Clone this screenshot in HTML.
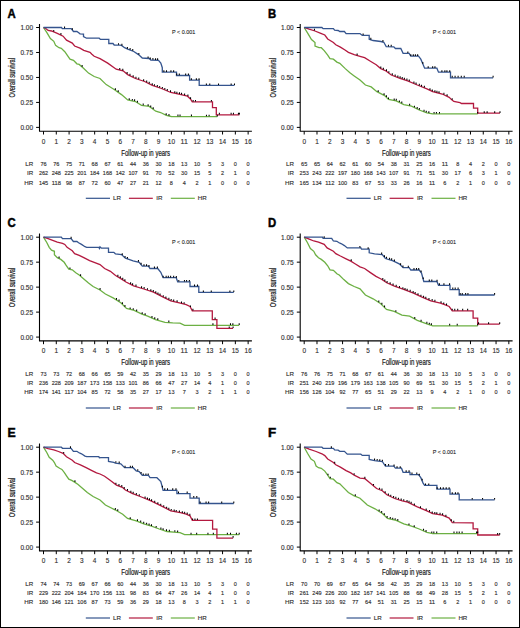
<!DOCTYPE html><html><head><meta charset="utf-8"><style>html,body{margin:0;padding:0;background:#fff}svg{display:block}</style></head><body>
<svg width="520" height="628" viewBox="0 0 520 628">
<rect x="0" y="0" width="520" height="628" fill="#fff"/>
<g transform="translate(0,0)">
<text x="7.4" y="17.7" font-family="Liberation Sans" font-weight="bold" font-size="12" fill="#000" stroke="#000" stroke-width="0.45" textLength="8.2" lengthAdjust="spacingAndGlyphs">A</text>
<path d="M39.5 23.9V131.6M39.0 131.2H251.9" stroke="#000" stroke-width="1.1" fill="none"/>
<text x="33.0" y="29.95" text-anchor="end" font-family="Liberation Sans" font-size="7.2" fill="#2e2e2e" stroke="#2e2e2e" stroke-width="0.14" textLength="12.6" lengthAdjust="spacingAndGlyphs">1.00</text>
<text x="33.0" y="54.92" text-anchor="end" font-family="Liberation Sans" font-size="7.2" fill="#2e2e2e" stroke="#2e2e2e" stroke-width="0.14" textLength="12.6" lengthAdjust="spacingAndGlyphs">0.75</text>
<text x="33.0" y="79.89" text-anchor="end" font-family="Liberation Sans" font-size="7.2" fill="#2e2e2e" stroke="#2e2e2e" stroke-width="0.14" textLength="12.6" lengthAdjust="spacingAndGlyphs">0.50</text>
<text x="33.0" y="104.86" text-anchor="end" font-family="Liberation Sans" font-size="7.2" fill="#2e2e2e" stroke="#2e2e2e" stroke-width="0.14" textLength="12.6" lengthAdjust="spacingAndGlyphs">0.25</text>
<text x="33.0" y="129.83" text-anchor="end" font-family="Liberation Sans" font-size="7.2" fill="#2e2e2e" stroke="#2e2e2e" stroke-width="0.14" textLength="12.6" lengthAdjust="spacingAndGlyphs">0.00</text>
<text x="43.5" y="143.6" text-anchor="middle" font-family="Liberation Sans" font-size="8.1" fill="#2e2e2e" stroke="#2e2e2e" stroke-width="0.14" textLength="3.6" lengthAdjust="spacingAndGlyphs">0</text>
<text x="56.29" y="143.6" text-anchor="middle" font-family="Liberation Sans" font-size="8.1" fill="#2e2e2e" stroke="#2e2e2e" stroke-width="0.14" textLength="3.6" lengthAdjust="spacingAndGlyphs">1</text>
<text x="69.08" y="143.6" text-anchor="middle" font-family="Liberation Sans" font-size="8.1" fill="#2e2e2e" stroke="#2e2e2e" stroke-width="0.14" textLength="3.6" lengthAdjust="spacingAndGlyphs">2</text>
<text x="81.87" y="143.6" text-anchor="middle" font-family="Liberation Sans" font-size="8.1" fill="#2e2e2e" stroke="#2e2e2e" stroke-width="0.14" textLength="3.6" lengthAdjust="spacingAndGlyphs">3</text>
<text x="94.66" y="143.6" text-anchor="middle" font-family="Liberation Sans" font-size="8.1" fill="#2e2e2e" stroke="#2e2e2e" stroke-width="0.14" textLength="3.6" lengthAdjust="spacingAndGlyphs">4</text>
<text x="107.45" y="143.6" text-anchor="middle" font-family="Liberation Sans" font-size="8.1" fill="#2e2e2e" stroke="#2e2e2e" stroke-width="0.14" textLength="3.6" lengthAdjust="spacingAndGlyphs">5</text>
<text x="120.24" y="143.6" text-anchor="middle" font-family="Liberation Sans" font-size="8.1" fill="#2e2e2e" stroke="#2e2e2e" stroke-width="0.14" textLength="3.6" lengthAdjust="spacingAndGlyphs">6</text>
<text x="133.03" y="143.6" text-anchor="middle" font-family="Liberation Sans" font-size="8.1" fill="#2e2e2e" stroke="#2e2e2e" stroke-width="0.14" textLength="3.6" lengthAdjust="spacingAndGlyphs">7</text>
<text x="145.82" y="143.6" text-anchor="middle" font-family="Liberation Sans" font-size="8.1" fill="#2e2e2e" stroke="#2e2e2e" stroke-width="0.14" textLength="3.6" lengthAdjust="spacingAndGlyphs">8</text>
<text x="158.61" y="143.6" text-anchor="middle" font-family="Liberation Sans" font-size="8.1" fill="#2e2e2e" stroke="#2e2e2e" stroke-width="0.14" textLength="3.6" lengthAdjust="spacingAndGlyphs">9</text>
<text x="171.4" y="143.6" text-anchor="middle" font-family="Liberation Sans" font-size="8.1" fill="#2e2e2e" stroke="#2e2e2e" stroke-width="0.14" textLength="7.2" lengthAdjust="spacingAndGlyphs">10</text>
<text x="184.19" y="143.6" text-anchor="middle" font-family="Liberation Sans" font-size="8.1" fill="#2e2e2e" stroke="#2e2e2e" stroke-width="0.14" textLength="7.2" lengthAdjust="spacingAndGlyphs">11</text>
<text x="196.98" y="143.6" text-anchor="middle" font-family="Liberation Sans" font-size="8.1" fill="#2e2e2e" stroke="#2e2e2e" stroke-width="0.14" textLength="7.2" lengthAdjust="spacingAndGlyphs">12</text>
<text x="209.77" y="143.6" text-anchor="middle" font-family="Liberation Sans" font-size="8.1" fill="#2e2e2e" stroke="#2e2e2e" stroke-width="0.14" textLength="7.2" lengthAdjust="spacingAndGlyphs">13</text>
<text x="222.56" y="143.6" text-anchor="middle" font-family="Liberation Sans" font-size="8.1" fill="#2e2e2e" stroke="#2e2e2e" stroke-width="0.14" textLength="7.2" lengthAdjust="spacingAndGlyphs">14</text>
<text x="235.35" y="143.6" text-anchor="middle" font-family="Liberation Sans" font-size="8.1" fill="#2e2e2e" stroke="#2e2e2e" stroke-width="0.14" textLength="7.2" lengthAdjust="spacingAndGlyphs">15</text>
<text x="248.14" y="143.6" text-anchor="middle" font-family="Liberation Sans" font-size="8.1" fill="#2e2e2e" stroke="#2e2e2e" stroke-width="0.14" textLength="7.2" lengthAdjust="spacingAndGlyphs">16</text>
<path d="M36.1 27.5H39.5 M36.1 52.47H39.5 M36.1 77.44H39.5 M36.1 102.41H39.5 M36.1 127.38H39.5 M43.5 131.2V134.5 M56.29 131.2V134.5 M69.08 131.2V134.5 M81.87 131.2V134.5 M94.66 131.2V134.5 M107.45 131.2V134.5 M120.24 131.2V134.5 M133.03 131.2V134.5 M145.82 131.2V134.5 M158.61 131.2V134.5 M171.4 131.2V134.5 M184.19 131.2V134.5 M196.98 131.2V134.5 M209.77 131.2V134.5 M222.56 131.2V134.5 M235.35 131.2V134.5 M248.14 131.2V134.5" stroke="#000" stroke-width="1" fill="none"/>
<text x="121.3" y="155.6" font-family="Liberation Sans" font-size="9.1" fill="#1a1a1a" stroke="#1a1a1a" stroke-width="0.22" textLength="48.8" lengthAdjust="spacingAndGlyphs">Follow-up in years</text>
<text transform="translate(15.0,97.6) rotate(-90)" x="0" y="0" font-family="Liberation Sans" font-size="9.0" fill="#1a1a1a" stroke="#1a1a1a" stroke-width="0.22" textLength="39.6" lengthAdjust="spacingAndGlyphs">Overall survival</text>
<text x="172.0" y="33.9" font-family="Liberation Sans" font-size="5.9" fill="#222" stroke="#222" stroke-width="0.1" textLength="23.3" lengthAdjust="spacingAndGlyphs">P &lt; 0.001</text>
<text x="33.2" y="166.34" text-anchor="end" font-family="Liberation Sans" font-size="6.2" fill="#2e2e2e" stroke="#2e2e2e" stroke-width="0.14">LR</text>
<text x="43.5" y="166.34" text-anchor="middle" font-family="Liberation Sans" font-size="6.2" fill="#2e2e2e" stroke="#2e2e2e" stroke-width="0.14" textLength="6.14" lengthAdjust="spacingAndGlyphs">76</text>
<text x="56.29" y="166.34" text-anchor="middle" font-family="Liberation Sans" font-size="6.2" fill="#2e2e2e" stroke="#2e2e2e" stroke-width="0.14" textLength="6.14" lengthAdjust="spacingAndGlyphs">76</text>
<text x="69.08" y="166.34" text-anchor="middle" font-family="Liberation Sans" font-size="6.2" fill="#2e2e2e" stroke="#2e2e2e" stroke-width="0.14" textLength="6.14" lengthAdjust="spacingAndGlyphs">75</text>
<text x="81.87" y="166.34" text-anchor="middle" font-family="Liberation Sans" font-size="6.2" fill="#2e2e2e" stroke="#2e2e2e" stroke-width="0.14" textLength="6.14" lengthAdjust="spacingAndGlyphs">71</text>
<text x="94.66" y="166.34" text-anchor="middle" font-family="Liberation Sans" font-size="6.2" fill="#2e2e2e" stroke="#2e2e2e" stroke-width="0.14" textLength="6.14" lengthAdjust="spacingAndGlyphs">68</text>
<text x="107.45" y="166.34" text-anchor="middle" font-family="Liberation Sans" font-size="6.2" fill="#2e2e2e" stroke="#2e2e2e" stroke-width="0.14" textLength="6.14" lengthAdjust="spacingAndGlyphs">67</text>
<text x="120.24" y="166.34" text-anchor="middle" font-family="Liberation Sans" font-size="6.2" fill="#2e2e2e" stroke="#2e2e2e" stroke-width="0.14" textLength="6.14" lengthAdjust="spacingAndGlyphs">61</text>
<text x="133.03" y="166.34" text-anchor="middle" font-family="Liberation Sans" font-size="6.2" fill="#2e2e2e" stroke="#2e2e2e" stroke-width="0.14" textLength="6.14" lengthAdjust="spacingAndGlyphs">44</text>
<text x="145.82" y="166.34" text-anchor="middle" font-family="Liberation Sans" font-size="6.2" fill="#2e2e2e" stroke="#2e2e2e" stroke-width="0.14" textLength="6.14" lengthAdjust="spacingAndGlyphs">36</text>
<text x="158.61" y="166.34" text-anchor="middle" font-family="Liberation Sans" font-size="6.2" fill="#2e2e2e" stroke="#2e2e2e" stroke-width="0.14" textLength="6.14" lengthAdjust="spacingAndGlyphs">30</text>
<text x="171.4" y="166.34" text-anchor="middle" font-family="Liberation Sans" font-size="6.2" fill="#2e2e2e" stroke="#2e2e2e" stroke-width="0.14" textLength="6.14" lengthAdjust="spacingAndGlyphs">18</text>
<text x="184.19" y="166.34" text-anchor="middle" font-family="Liberation Sans" font-size="6.2" fill="#2e2e2e" stroke="#2e2e2e" stroke-width="0.14" textLength="6.14" lengthAdjust="spacingAndGlyphs">13</text>
<text x="196.98" y="166.34" text-anchor="middle" font-family="Liberation Sans" font-size="6.2" fill="#2e2e2e" stroke="#2e2e2e" stroke-width="0.14" textLength="6.14" lengthAdjust="spacingAndGlyphs">10</text>
<text x="209.77" y="166.34" text-anchor="middle" font-family="Liberation Sans" font-size="6.2" fill="#2e2e2e" stroke="#2e2e2e" stroke-width="0.14" textLength="3.07" lengthAdjust="spacingAndGlyphs">5</text>
<text x="222.56" y="166.34" text-anchor="middle" font-family="Liberation Sans" font-size="6.2" fill="#2e2e2e" stroke="#2e2e2e" stroke-width="0.14" textLength="3.07" lengthAdjust="spacingAndGlyphs">3</text>
<text x="235.35" y="166.34" text-anchor="middle" font-family="Liberation Sans" font-size="6.2" fill="#2e2e2e" stroke="#2e2e2e" stroke-width="0.14" textLength="3.07" lengthAdjust="spacingAndGlyphs">0</text>
<text x="248.14" y="166.34" text-anchor="middle" font-family="Liberation Sans" font-size="6.2" fill="#2e2e2e" stroke="#2e2e2e" stroke-width="0.14" textLength="3.07" lengthAdjust="spacingAndGlyphs">0</text>
<text x="33.2" y="175.44" text-anchor="end" font-family="Liberation Sans" font-size="6.2" fill="#2e2e2e" stroke="#2e2e2e" stroke-width="0.14">IR</text>
<text x="43.5" y="175.44" text-anchor="middle" font-family="Liberation Sans" font-size="6.2" fill="#2e2e2e" stroke="#2e2e2e" stroke-width="0.14" textLength="9.21" lengthAdjust="spacingAndGlyphs">262</text>
<text x="56.29" y="175.44" text-anchor="middle" font-family="Liberation Sans" font-size="6.2" fill="#2e2e2e" stroke="#2e2e2e" stroke-width="0.14" textLength="9.21" lengthAdjust="spacingAndGlyphs">248</text>
<text x="69.08" y="175.44" text-anchor="middle" font-family="Liberation Sans" font-size="6.2" fill="#2e2e2e" stroke="#2e2e2e" stroke-width="0.14" textLength="9.21" lengthAdjust="spacingAndGlyphs">225</text>
<text x="81.87" y="175.44" text-anchor="middle" font-family="Liberation Sans" font-size="6.2" fill="#2e2e2e" stroke="#2e2e2e" stroke-width="0.14" textLength="9.21" lengthAdjust="spacingAndGlyphs">201</text>
<text x="94.66" y="175.44" text-anchor="middle" font-family="Liberation Sans" font-size="6.2" fill="#2e2e2e" stroke="#2e2e2e" stroke-width="0.14" textLength="9.21" lengthAdjust="spacingAndGlyphs">184</text>
<text x="107.45" y="175.44" text-anchor="middle" font-family="Liberation Sans" font-size="6.2" fill="#2e2e2e" stroke="#2e2e2e" stroke-width="0.14" textLength="9.21" lengthAdjust="spacingAndGlyphs">168</text>
<text x="120.24" y="175.44" text-anchor="middle" font-family="Liberation Sans" font-size="6.2" fill="#2e2e2e" stroke="#2e2e2e" stroke-width="0.14" textLength="9.21" lengthAdjust="spacingAndGlyphs">142</text>
<text x="133.03" y="175.44" text-anchor="middle" font-family="Liberation Sans" font-size="6.2" fill="#2e2e2e" stroke="#2e2e2e" stroke-width="0.14" textLength="9.21" lengthAdjust="spacingAndGlyphs">107</text>
<text x="145.82" y="175.44" text-anchor="middle" font-family="Liberation Sans" font-size="6.2" fill="#2e2e2e" stroke="#2e2e2e" stroke-width="0.14" textLength="6.14" lengthAdjust="spacingAndGlyphs">91</text>
<text x="158.61" y="175.44" text-anchor="middle" font-family="Liberation Sans" font-size="6.2" fill="#2e2e2e" stroke="#2e2e2e" stroke-width="0.14" textLength="6.14" lengthAdjust="spacingAndGlyphs">70</text>
<text x="171.4" y="175.44" text-anchor="middle" font-family="Liberation Sans" font-size="6.2" fill="#2e2e2e" stroke="#2e2e2e" stroke-width="0.14" textLength="6.14" lengthAdjust="spacingAndGlyphs">52</text>
<text x="184.19" y="175.44" text-anchor="middle" font-family="Liberation Sans" font-size="6.2" fill="#2e2e2e" stroke="#2e2e2e" stroke-width="0.14" textLength="6.14" lengthAdjust="spacingAndGlyphs">30</text>
<text x="196.98" y="175.44" text-anchor="middle" font-family="Liberation Sans" font-size="6.2" fill="#2e2e2e" stroke="#2e2e2e" stroke-width="0.14" textLength="6.14" lengthAdjust="spacingAndGlyphs">15</text>
<text x="209.77" y="175.44" text-anchor="middle" font-family="Liberation Sans" font-size="6.2" fill="#2e2e2e" stroke="#2e2e2e" stroke-width="0.14" textLength="3.07" lengthAdjust="spacingAndGlyphs">5</text>
<text x="222.56" y="175.44" text-anchor="middle" font-family="Liberation Sans" font-size="6.2" fill="#2e2e2e" stroke="#2e2e2e" stroke-width="0.14" textLength="3.07" lengthAdjust="spacingAndGlyphs">2</text>
<text x="235.35" y="175.44" text-anchor="middle" font-family="Liberation Sans" font-size="6.2" fill="#2e2e2e" stroke="#2e2e2e" stroke-width="0.14" textLength="3.07" lengthAdjust="spacingAndGlyphs">1</text>
<text x="248.14" y="175.44" text-anchor="middle" font-family="Liberation Sans" font-size="6.2" fill="#2e2e2e" stroke="#2e2e2e" stroke-width="0.14" textLength="3.07" lengthAdjust="spacingAndGlyphs">0</text>
<text x="33.2" y="184.54" text-anchor="end" font-family="Liberation Sans" font-size="6.2" fill="#2e2e2e" stroke="#2e2e2e" stroke-width="0.14">HR</text>
<text x="43.5" y="184.54" text-anchor="middle" font-family="Liberation Sans" font-size="6.2" fill="#2e2e2e" stroke="#2e2e2e" stroke-width="0.14" textLength="9.21" lengthAdjust="spacingAndGlyphs">145</text>
<text x="56.29" y="184.54" text-anchor="middle" font-family="Liberation Sans" font-size="6.2" fill="#2e2e2e" stroke="#2e2e2e" stroke-width="0.14" textLength="9.21" lengthAdjust="spacingAndGlyphs">118</text>
<text x="69.08" y="184.54" text-anchor="middle" font-family="Liberation Sans" font-size="6.2" fill="#2e2e2e" stroke="#2e2e2e" stroke-width="0.14" textLength="6.14" lengthAdjust="spacingAndGlyphs">98</text>
<text x="81.87" y="184.54" text-anchor="middle" font-family="Liberation Sans" font-size="6.2" fill="#2e2e2e" stroke="#2e2e2e" stroke-width="0.14" textLength="6.14" lengthAdjust="spacingAndGlyphs">87</text>
<text x="94.66" y="184.54" text-anchor="middle" font-family="Liberation Sans" font-size="6.2" fill="#2e2e2e" stroke="#2e2e2e" stroke-width="0.14" textLength="6.14" lengthAdjust="spacingAndGlyphs">72</text>
<text x="107.45" y="184.54" text-anchor="middle" font-family="Liberation Sans" font-size="6.2" fill="#2e2e2e" stroke="#2e2e2e" stroke-width="0.14" textLength="6.14" lengthAdjust="spacingAndGlyphs">60</text>
<text x="120.24" y="184.54" text-anchor="middle" font-family="Liberation Sans" font-size="6.2" fill="#2e2e2e" stroke="#2e2e2e" stroke-width="0.14" textLength="6.14" lengthAdjust="spacingAndGlyphs">47</text>
<text x="133.03" y="184.54" text-anchor="middle" font-family="Liberation Sans" font-size="6.2" fill="#2e2e2e" stroke="#2e2e2e" stroke-width="0.14" textLength="6.14" lengthAdjust="spacingAndGlyphs">27</text>
<text x="145.82" y="184.54" text-anchor="middle" font-family="Liberation Sans" font-size="6.2" fill="#2e2e2e" stroke="#2e2e2e" stroke-width="0.14" textLength="6.14" lengthAdjust="spacingAndGlyphs">21</text>
<text x="158.61" y="184.54" text-anchor="middle" font-family="Liberation Sans" font-size="6.2" fill="#2e2e2e" stroke="#2e2e2e" stroke-width="0.14" textLength="6.14" lengthAdjust="spacingAndGlyphs">12</text>
<text x="171.4" y="184.54" text-anchor="middle" font-family="Liberation Sans" font-size="6.2" fill="#2e2e2e" stroke="#2e2e2e" stroke-width="0.14" textLength="3.07" lengthAdjust="spacingAndGlyphs">8</text>
<text x="184.19" y="184.54" text-anchor="middle" font-family="Liberation Sans" font-size="6.2" fill="#2e2e2e" stroke="#2e2e2e" stroke-width="0.14" textLength="3.07" lengthAdjust="spacingAndGlyphs">4</text>
<text x="196.98" y="184.54" text-anchor="middle" font-family="Liberation Sans" font-size="6.2" fill="#2e2e2e" stroke="#2e2e2e" stroke-width="0.14" textLength="3.07" lengthAdjust="spacingAndGlyphs">2</text>
<text x="209.77" y="184.54" text-anchor="middle" font-family="Liberation Sans" font-size="6.2" fill="#2e2e2e" stroke="#2e2e2e" stroke-width="0.14" textLength="3.07" lengthAdjust="spacingAndGlyphs">1</text>
<text x="222.56" y="184.54" text-anchor="middle" font-family="Liberation Sans" font-size="6.2" fill="#2e2e2e" stroke="#2e2e2e" stroke-width="0.14" textLength="3.07" lengthAdjust="spacingAndGlyphs">0</text>
<text x="235.35" y="184.54" text-anchor="middle" font-family="Liberation Sans" font-size="6.2" fill="#2e2e2e" stroke="#2e2e2e" stroke-width="0.14" textLength="3.07" lengthAdjust="spacingAndGlyphs">0</text>
<text x="248.14" y="184.54" text-anchor="middle" font-family="Liberation Sans" font-size="6.2" fill="#2e2e2e" stroke="#2e2e2e" stroke-width="0.14" textLength="3.07" lengthAdjust="spacingAndGlyphs">0</text>
<path d="M85.8 198.3H110" stroke="#34548e" stroke-width="1.2"/>
<path d="M128.9 198.3H152.8" stroke="#b3193f" stroke-width="1.2"/>
<path d="M170.8 198.3H194.8" stroke="#6cb043" stroke-width="1.2"/>
<text x="113" y="200.3" font-family="Liberation Sans" font-size="6.2" fill="#2e2e2e" stroke="#2e2e2e" stroke-width="0.14">LR</text>
<text x="156.2" y="200.3" font-family="Liberation Sans" font-size="6.2" fill="#2e2e2e" stroke="#2e2e2e" stroke-width="0.14">IR</text>
<text x="197.7" y="200.3" font-family="Liberation Sans" font-size="6.2" fill="#2e2e2e" stroke="#2e2e2e" stroke-width="0.14">HR</text>
</g>
<path d="M43.5 27.5 46.9 32.7 50.4 38.5 53.8 41.3 55.6 45.4 59 47.7 61.3 48.3 64.8 51.7 67.7 55.8 70 59.2 73.5 60.4 76.9 63.8 79.2 64.4 83.8 68.5 88.5 73.1 94.2 76.5 100 78.5 106.2 84.6 113.8 89.2 121.5 94.6 127.7 100 135.4 101.5 141.5 105.4 149.2 106.4 155.8 111.2 160.6 112.5 166.3 115.4 171.2 116.5 217.3 116.7" stroke="#6cb043" stroke-width="1.3" fill="none" stroke-linejoin="miter" stroke-miterlimit="3"/>
<path d="M43.5 27.5 45.2 28.1 48.1 30.4 51.5 31 57.3 33.3 63.1 36.2 66.5 40.2 72.3 43.1 74.6 46 80 48.1 83.8 50.4 90 52.3 91.9 54.2 94.2 56.3 100 58.6 107.7 63.1 116.2 69.2 123.1 70.8 127.7 74.6 135.4 78.5 144.6 81.5 152.3 85.4 161.5 88.5 170.8 92.5 178.8 94.2 187.5 96.2 190.4 99 192.3 101.9 212.5 101.9 212.5 107.7 216.3 107.7 216.3 114.8 239.4 114.8" stroke="#b3193f" stroke-width="1.3" fill="none" stroke-linejoin="miter" stroke-miterlimit="3"/>
<path d="M43.5 27.5 61.5 27.5 62.3 28.6 71.2 28.6 73.5 31.5 76.9 31.5 78.7 32.7 80 33.8 83.5 34.2 83.5 36.5 86.5 38.2 99.2 38.2 100.4 39.4 108.8 39.4 108.8 43.5 113 43.5 114.2 45 120 45.2 121.5 45.4 124.6 47.7 127.7 49.2 133.8 51.5 138.5 54.6 142.3 58 149.2 58.5 150.8 60 158.5 60.3 160.8 63.1 162.3 67.7 162.3 72.2 176.5 72.2 176.5 75.5 189.6 75.5 189.6 80.2 199.2 80.2 199.2 85.4 234.5 85.4" stroke="#34548e" stroke-width="1.3" fill="none" stroke-linejoin="miter" stroke-miterlimit="3"/>
<path d="M64.56 28.3v-1.7 M72.43 29.85v-1.7 M118.51 44.85v-1.7 M121.91 45.41v-1.7 M127.39 48.75v-1.7 M130.1 49.8v-1.7 M132.74 50.8v-1.7 M138.85 54.61v-1.7 M148.08 58.12v-1.7 M150.27 59.21v-1.7 M152.91 59.78v-1.7 M155.56 59.89v-1.7 M157.6 59.96v-1.7 M163.87 71.9v-1.7 M166.49 71.9v-1.7 M170.95 71.9v-1.7 M173.64 71.9v-1.7 M176.71 75.2v-1.7 M179.31 75.2v-1.7 M185.67 75.2v-1.7 M188.4 75.2v-1.7 M191.34 79.9v-1.7 M196.35 79.9v-1.7 M199.04 79.9v-1.7 M206.37 85.1v-1.7 M209.76 85.1v-1.7 M218.51 85.1v-1.7 M231.15 85.1v-1.7 M234.5 85.1v-1.7 M53.73 31.59v-1.7 M60.93 34.82v-1.7 M119.75 69.72v-1.7 M122.79 70.43v-1.7 M127.12 73.82v-1.7 M129.96 75.44v-1.7 M133.14 77.05v-1.7 M135.94 78.38v-1.7 M138.74 79.29v-1.7 M143.64 80.89v-1.7 M146.68 82.25v-1.7 M149.24 83.55v-1.7 M152.24 85.07v-1.7 M154.46 85.83v-1.7 M157.32 86.79v-1.7 M159.66 87.58v-1.7 M162.38 88.58v-1.7 M164.81 89.62v-1.7 M167.29 90.69v-1.7 M170.51 92.07v-1.7 M174.79 93.05v-1.7 M176.88 93.49v-1.7 M179.46 94.05v-1.7 M181.55 94.53v-1.7 M184.6 95.23v-1.7 M187.92 96.31v-1.7 M190.55 98.93v-1.7 M193.13 101.6v-1.7 M195.5 101.6v-1.7 M211.4 101.6v-1.7 M219.37 114.5v-1.7 M231.12 114.5v-1.7 M233.43 114.5v-1.7 M238.42 114.5v-1.7 M239.4 114.5v-1.7 M82.13 66.71v-1.7 M115.37 90v-1.7 M118.2 91.98v-1.7 M129.21 99.99v-1.7 M132.34 100.6v-1.7 M134.6 101.04v-1.7 M137.43 102.5v-1.7 M143.2 105.32v-1.7 M148.12 105.96v-1.7 M150.72 107.21v-1.7 M153.2 109.01v-1.7 M166.18 115.04v-1.7 M168.97 115.7v-1.7 M177.95 116.23v-1.7 M180.03 116.24v-1.7 M191.43 116.29v-1.7 M206.45 116.35v-1.7 M209.1 116.36v-1.7 M217.3 116.4v-1.7" stroke="#000" stroke-width="1.05" fill="none"/>
<g transform="translate(260.7,0)">
<text x="7.4" y="17.7" font-family="Liberation Sans" font-weight="bold" font-size="12" fill="#000" stroke="#000" stroke-width="0.45" textLength="8.2" lengthAdjust="spacingAndGlyphs">B</text>
<path d="M39.5 23.9V131.6M39.0 131.2H251.9" stroke="#000" stroke-width="1.1" fill="none"/>
<text x="33.0" y="29.95" text-anchor="end" font-family="Liberation Sans" font-size="7.2" fill="#2e2e2e" stroke="#2e2e2e" stroke-width="0.14" textLength="12.6" lengthAdjust="spacingAndGlyphs">1.00</text>
<text x="33.0" y="54.92" text-anchor="end" font-family="Liberation Sans" font-size="7.2" fill="#2e2e2e" stroke="#2e2e2e" stroke-width="0.14" textLength="12.6" lengthAdjust="spacingAndGlyphs">0.75</text>
<text x="33.0" y="79.89" text-anchor="end" font-family="Liberation Sans" font-size="7.2" fill="#2e2e2e" stroke="#2e2e2e" stroke-width="0.14" textLength="12.6" lengthAdjust="spacingAndGlyphs">0.50</text>
<text x="33.0" y="104.86" text-anchor="end" font-family="Liberation Sans" font-size="7.2" fill="#2e2e2e" stroke="#2e2e2e" stroke-width="0.14" textLength="12.6" lengthAdjust="spacingAndGlyphs">0.25</text>
<text x="33.0" y="129.83" text-anchor="end" font-family="Liberation Sans" font-size="7.2" fill="#2e2e2e" stroke="#2e2e2e" stroke-width="0.14" textLength="12.6" lengthAdjust="spacingAndGlyphs">0.00</text>
<text x="43.5" y="143.6" text-anchor="middle" font-family="Liberation Sans" font-size="8.1" fill="#2e2e2e" stroke="#2e2e2e" stroke-width="0.14" textLength="3.6" lengthAdjust="spacingAndGlyphs">0</text>
<text x="56.29" y="143.6" text-anchor="middle" font-family="Liberation Sans" font-size="8.1" fill="#2e2e2e" stroke="#2e2e2e" stroke-width="0.14" textLength="3.6" lengthAdjust="spacingAndGlyphs">1</text>
<text x="69.08" y="143.6" text-anchor="middle" font-family="Liberation Sans" font-size="8.1" fill="#2e2e2e" stroke="#2e2e2e" stroke-width="0.14" textLength="3.6" lengthAdjust="spacingAndGlyphs">2</text>
<text x="81.87" y="143.6" text-anchor="middle" font-family="Liberation Sans" font-size="8.1" fill="#2e2e2e" stroke="#2e2e2e" stroke-width="0.14" textLength="3.6" lengthAdjust="spacingAndGlyphs">3</text>
<text x="94.66" y="143.6" text-anchor="middle" font-family="Liberation Sans" font-size="8.1" fill="#2e2e2e" stroke="#2e2e2e" stroke-width="0.14" textLength="3.6" lengthAdjust="spacingAndGlyphs">4</text>
<text x="107.45" y="143.6" text-anchor="middle" font-family="Liberation Sans" font-size="8.1" fill="#2e2e2e" stroke="#2e2e2e" stroke-width="0.14" textLength="3.6" lengthAdjust="spacingAndGlyphs">5</text>
<text x="120.24" y="143.6" text-anchor="middle" font-family="Liberation Sans" font-size="8.1" fill="#2e2e2e" stroke="#2e2e2e" stroke-width="0.14" textLength="3.6" lengthAdjust="spacingAndGlyphs">6</text>
<text x="133.03" y="143.6" text-anchor="middle" font-family="Liberation Sans" font-size="8.1" fill="#2e2e2e" stroke="#2e2e2e" stroke-width="0.14" textLength="3.6" lengthAdjust="spacingAndGlyphs">7</text>
<text x="145.82" y="143.6" text-anchor="middle" font-family="Liberation Sans" font-size="8.1" fill="#2e2e2e" stroke="#2e2e2e" stroke-width="0.14" textLength="3.6" lengthAdjust="spacingAndGlyphs">8</text>
<text x="158.61" y="143.6" text-anchor="middle" font-family="Liberation Sans" font-size="8.1" fill="#2e2e2e" stroke="#2e2e2e" stroke-width="0.14" textLength="3.6" lengthAdjust="spacingAndGlyphs">9</text>
<text x="171.4" y="143.6" text-anchor="middle" font-family="Liberation Sans" font-size="8.1" fill="#2e2e2e" stroke="#2e2e2e" stroke-width="0.14" textLength="7.2" lengthAdjust="spacingAndGlyphs">10</text>
<text x="184.19" y="143.6" text-anchor="middle" font-family="Liberation Sans" font-size="8.1" fill="#2e2e2e" stroke="#2e2e2e" stroke-width="0.14" textLength="7.2" lengthAdjust="spacingAndGlyphs">11</text>
<text x="196.98" y="143.6" text-anchor="middle" font-family="Liberation Sans" font-size="8.1" fill="#2e2e2e" stroke="#2e2e2e" stroke-width="0.14" textLength="7.2" lengthAdjust="spacingAndGlyphs">12</text>
<text x="209.77" y="143.6" text-anchor="middle" font-family="Liberation Sans" font-size="8.1" fill="#2e2e2e" stroke="#2e2e2e" stroke-width="0.14" textLength="7.2" lengthAdjust="spacingAndGlyphs">13</text>
<text x="222.56" y="143.6" text-anchor="middle" font-family="Liberation Sans" font-size="8.1" fill="#2e2e2e" stroke="#2e2e2e" stroke-width="0.14" textLength="7.2" lengthAdjust="spacingAndGlyphs">14</text>
<text x="235.35" y="143.6" text-anchor="middle" font-family="Liberation Sans" font-size="8.1" fill="#2e2e2e" stroke="#2e2e2e" stroke-width="0.14" textLength="7.2" lengthAdjust="spacingAndGlyphs">15</text>
<text x="248.14" y="143.6" text-anchor="middle" font-family="Liberation Sans" font-size="8.1" fill="#2e2e2e" stroke="#2e2e2e" stroke-width="0.14" textLength="7.2" lengthAdjust="spacingAndGlyphs">16</text>
<path d="M36.1 27.5H39.5 M36.1 52.47H39.5 M36.1 77.44H39.5 M36.1 102.41H39.5 M36.1 127.38H39.5 M43.5 131.2V134.5 M56.29 131.2V134.5 M69.08 131.2V134.5 M81.87 131.2V134.5 M94.66 131.2V134.5 M107.45 131.2V134.5 M120.24 131.2V134.5 M133.03 131.2V134.5 M145.82 131.2V134.5 M158.61 131.2V134.5 M171.4 131.2V134.5 M184.19 131.2V134.5 M196.98 131.2V134.5 M209.77 131.2V134.5 M222.56 131.2V134.5 M235.35 131.2V134.5 M248.14 131.2V134.5" stroke="#000" stroke-width="1" fill="none"/>
<text x="121.3" y="155.6" font-family="Liberation Sans" font-size="9.1" fill="#1a1a1a" stroke="#1a1a1a" stroke-width="0.22" textLength="48.8" lengthAdjust="spacingAndGlyphs">Follow-up in years</text>
<text transform="translate(15.0,97.6) rotate(-90)" x="0" y="0" font-family="Liberation Sans" font-size="9.0" fill="#1a1a1a" stroke="#1a1a1a" stroke-width="0.22" textLength="39.6" lengthAdjust="spacingAndGlyphs">Overall survival</text>
<text x="172.0" y="33.9" font-family="Liberation Sans" font-size="5.9" fill="#222" stroke="#222" stroke-width="0.1" textLength="23.3" lengthAdjust="spacingAndGlyphs">P &lt; 0.001</text>
<text x="33.2" y="166.34" text-anchor="end" font-family="Liberation Sans" font-size="6.2" fill="#2e2e2e" stroke="#2e2e2e" stroke-width="0.14">LR</text>
<text x="43.5" y="166.34" text-anchor="middle" font-family="Liberation Sans" font-size="6.2" fill="#2e2e2e" stroke="#2e2e2e" stroke-width="0.14" textLength="6.14" lengthAdjust="spacingAndGlyphs">65</text>
<text x="56.29" y="166.34" text-anchor="middle" font-family="Liberation Sans" font-size="6.2" fill="#2e2e2e" stroke="#2e2e2e" stroke-width="0.14" textLength="6.14" lengthAdjust="spacingAndGlyphs">65</text>
<text x="69.08" y="166.34" text-anchor="middle" font-family="Liberation Sans" font-size="6.2" fill="#2e2e2e" stroke="#2e2e2e" stroke-width="0.14" textLength="6.14" lengthAdjust="spacingAndGlyphs">64</text>
<text x="81.87" y="166.34" text-anchor="middle" font-family="Liberation Sans" font-size="6.2" fill="#2e2e2e" stroke="#2e2e2e" stroke-width="0.14" textLength="6.14" lengthAdjust="spacingAndGlyphs">62</text>
<text x="94.66" y="166.34" text-anchor="middle" font-family="Liberation Sans" font-size="6.2" fill="#2e2e2e" stroke="#2e2e2e" stroke-width="0.14" textLength="6.14" lengthAdjust="spacingAndGlyphs">61</text>
<text x="107.45" y="166.34" text-anchor="middle" font-family="Liberation Sans" font-size="6.2" fill="#2e2e2e" stroke="#2e2e2e" stroke-width="0.14" textLength="6.14" lengthAdjust="spacingAndGlyphs">60</text>
<text x="120.24" y="166.34" text-anchor="middle" font-family="Liberation Sans" font-size="6.2" fill="#2e2e2e" stroke="#2e2e2e" stroke-width="0.14" textLength="6.14" lengthAdjust="spacingAndGlyphs">54</text>
<text x="133.03" y="166.34" text-anchor="middle" font-family="Liberation Sans" font-size="6.2" fill="#2e2e2e" stroke="#2e2e2e" stroke-width="0.14" textLength="6.14" lengthAdjust="spacingAndGlyphs">38</text>
<text x="145.82" y="166.34" text-anchor="middle" font-family="Liberation Sans" font-size="6.2" fill="#2e2e2e" stroke="#2e2e2e" stroke-width="0.14" textLength="6.14" lengthAdjust="spacingAndGlyphs">31</text>
<text x="158.61" y="166.34" text-anchor="middle" font-family="Liberation Sans" font-size="6.2" fill="#2e2e2e" stroke="#2e2e2e" stroke-width="0.14" textLength="6.14" lengthAdjust="spacingAndGlyphs">25</text>
<text x="171.4" y="166.34" text-anchor="middle" font-family="Liberation Sans" font-size="6.2" fill="#2e2e2e" stroke="#2e2e2e" stroke-width="0.14" textLength="6.14" lengthAdjust="spacingAndGlyphs">16</text>
<text x="184.19" y="166.34" text-anchor="middle" font-family="Liberation Sans" font-size="6.2" fill="#2e2e2e" stroke="#2e2e2e" stroke-width="0.14" textLength="6.14" lengthAdjust="spacingAndGlyphs">11</text>
<text x="196.98" y="166.34" text-anchor="middle" font-family="Liberation Sans" font-size="6.2" fill="#2e2e2e" stroke="#2e2e2e" stroke-width="0.14" textLength="3.07" lengthAdjust="spacingAndGlyphs">8</text>
<text x="209.77" y="166.34" text-anchor="middle" font-family="Liberation Sans" font-size="6.2" fill="#2e2e2e" stroke="#2e2e2e" stroke-width="0.14" textLength="3.07" lengthAdjust="spacingAndGlyphs">4</text>
<text x="222.56" y="166.34" text-anchor="middle" font-family="Liberation Sans" font-size="6.2" fill="#2e2e2e" stroke="#2e2e2e" stroke-width="0.14" textLength="3.07" lengthAdjust="spacingAndGlyphs">2</text>
<text x="235.35" y="166.34" text-anchor="middle" font-family="Liberation Sans" font-size="6.2" fill="#2e2e2e" stroke="#2e2e2e" stroke-width="0.14" textLength="3.07" lengthAdjust="spacingAndGlyphs">0</text>
<text x="248.14" y="166.34" text-anchor="middle" font-family="Liberation Sans" font-size="6.2" fill="#2e2e2e" stroke="#2e2e2e" stroke-width="0.14" textLength="3.07" lengthAdjust="spacingAndGlyphs">0</text>
<text x="33.2" y="175.44" text-anchor="end" font-family="Liberation Sans" font-size="6.2" fill="#2e2e2e" stroke="#2e2e2e" stroke-width="0.14">IR</text>
<text x="43.5" y="175.44" text-anchor="middle" font-family="Liberation Sans" font-size="6.2" fill="#2e2e2e" stroke="#2e2e2e" stroke-width="0.14" textLength="9.21" lengthAdjust="spacingAndGlyphs">253</text>
<text x="56.29" y="175.44" text-anchor="middle" font-family="Liberation Sans" font-size="6.2" fill="#2e2e2e" stroke="#2e2e2e" stroke-width="0.14" textLength="9.21" lengthAdjust="spacingAndGlyphs">243</text>
<text x="69.08" y="175.44" text-anchor="middle" font-family="Liberation Sans" font-size="6.2" fill="#2e2e2e" stroke="#2e2e2e" stroke-width="0.14" textLength="9.21" lengthAdjust="spacingAndGlyphs">222</text>
<text x="81.87" y="175.44" text-anchor="middle" font-family="Liberation Sans" font-size="6.2" fill="#2e2e2e" stroke="#2e2e2e" stroke-width="0.14" textLength="9.21" lengthAdjust="spacingAndGlyphs">197</text>
<text x="94.66" y="175.44" text-anchor="middle" font-family="Liberation Sans" font-size="6.2" fill="#2e2e2e" stroke="#2e2e2e" stroke-width="0.14" textLength="9.21" lengthAdjust="spacingAndGlyphs">180</text>
<text x="107.45" y="175.44" text-anchor="middle" font-family="Liberation Sans" font-size="6.2" fill="#2e2e2e" stroke="#2e2e2e" stroke-width="0.14" textLength="9.21" lengthAdjust="spacingAndGlyphs">168</text>
<text x="120.24" y="175.44" text-anchor="middle" font-family="Liberation Sans" font-size="6.2" fill="#2e2e2e" stroke="#2e2e2e" stroke-width="0.14" textLength="9.21" lengthAdjust="spacingAndGlyphs">143</text>
<text x="133.03" y="175.44" text-anchor="middle" font-family="Liberation Sans" font-size="6.2" fill="#2e2e2e" stroke="#2e2e2e" stroke-width="0.14" textLength="9.21" lengthAdjust="spacingAndGlyphs">107</text>
<text x="145.82" y="175.44" text-anchor="middle" font-family="Liberation Sans" font-size="6.2" fill="#2e2e2e" stroke="#2e2e2e" stroke-width="0.14" textLength="6.14" lengthAdjust="spacingAndGlyphs">91</text>
<text x="158.61" y="175.44" text-anchor="middle" font-family="Liberation Sans" font-size="6.2" fill="#2e2e2e" stroke="#2e2e2e" stroke-width="0.14" textLength="6.14" lengthAdjust="spacingAndGlyphs">71</text>
<text x="171.4" y="175.44" text-anchor="middle" font-family="Liberation Sans" font-size="6.2" fill="#2e2e2e" stroke="#2e2e2e" stroke-width="0.14" textLength="6.14" lengthAdjust="spacingAndGlyphs">51</text>
<text x="184.19" y="175.44" text-anchor="middle" font-family="Liberation Sans" font-size="6.2" fill="#2e2e2e" stroke="#2e2e2e" stroke-width="0.14" textLength="6.14" lengthAdjust="spacingAndGlyphs">30</text>
<text x="196.98" y="175.44" text-anchor="middle" font-family="Liberation Sans" font-size="6.2" fill="#2e2e2e" stroke="#2e2e2e" stroke-width="0.14" textLength="6.14" lengthAdjust="spacingAndGlyphs">17</text>
<text x="209.77" y="175.44" text-anchor="middle" font-family="Liberation Sans" font-size="6.2" fill="#2e2e2e" stroke="#2e2e2e" stroke-width="0.14" textLength="3.07" lengthAdjust="spacingAndGlyphs">6</text>
<text x="222.56" y="175.44" text-anchor="middle" font-family="Liberation Sans" font-size="6.2" fill="#2e2e2e" stroke="#2e2e2e" stroke-width="0.14" textLength="3.07" lengthAdjust="spacingAndGlyphs">3</text>
<text x="235.35" y="175.44" text-anchor="middle" font-family="Liberation Sans" font-size="6.2" fill="#2e2e2e" stroke="#2e2e2e" stroke-width="0.14" textLength="3.07" lengthAdjust="spacingAndGlyphs">1</text>
<text x="248.14" y="175.44" text-anchor="middle" font-family="Liberation Sans" font-size="6.2" fill="#2e2e2e" stroke="#2e2e2e" stroke-width="0.14" textLength="3.07" lengthAdjust="spacingAndGlyphs">0</text>
<text x="33.2" y="184.54" text-anchor="end" font-family="Liberation Sans" font-size="6.2" fill="#2e2e2e" stroke="#2e2e2e" stroke-width="0.14">HR</text>
<text x="43.5" y="184.54" text-anchor="middle" font-family="Liberation Sans" font-size="6.2" fill="#2e2e2e" stroke="#2e2e2e" stroke-width="0.14" textLength="9.21" lengthAdjust="spacingAndGlyphs">165</text>
<text x="56.29" y="184.54" text-anchor="middle" font-family="Liberation Sans" font-size="6.2" fill="#2e2e2e" stroke="#2e2e2e" stroke-width="0.14" textLength="9.21" lengthAdjust="spacingAndGlyphs">134</text>
<text x="69.08" y="184.54" text-anchor="middle" font-family="Liberation Sans" font-size="6.2" fill="#2e2e2e" stroke="#2e2e2e" stroke-width="0.14" textLength="9.21" lengthAdjust="spacingAndGlyphs">112</text>
<text x="81.87" y="184.54" text-anchor="middle" font-family="Liberation Sans" font-size="6.2" fill="#2e2e2e" stroke="#2e2e2e" stroke-width="0.14" textLength="9.21" lengthAdjust="spacingAndGlyphs">100</text>
<text x="94.66" y="184.54" text-anchor="middle" font-family="Liberation Sans" font-size="6.2" fill="#2e2e2e" stroke="#2e2e2e" stroke-width="0.14" textLength="6.14" lengthAdjust="spacingAndGlyphs">83</text>
<text x="107.45" y="184.54" text-anchor="middle" font-family="Liberation Sans" font-size="6.2" fill="#2e2e2e" stroke="#2e2e2e" stroke-width="0.14" textLength="6.14" lengthAdjust="spacingAndGlyphs">67</text>
<text x="120.24" y="184.54" text-anchor="middle" font-family="Liberation Sans" font-size="6.2" fill="#2e2e2e" stroke="#2e2e2e" stroke-width="0.14" textLength="6.14" lengthAdjust="spacingAndGlyphs">53</text>
<text x="133.03" y="184.54" text-anchor="middle" font-family="Liberation Sans" font-size="6.2" fill="#2e2e2e" stroke="#2e2e2e" stroke-width="0.14" textLength="6.14" lengthAdjust="spacingAndGlyphs">33</text>
<text x="145.82" y="184.54" text-anchor="middle" font-family="Liberation Sans" font-size="6.2" fill="#2e2e2e" stroke="#2e2e2e" stroke-width="0.14" textLength="6.14" lengthAdjust="spacingAndGlyphs">26</text>
<text x="158.61" y="184.54" text-anchor="middle" font-family="Liberation Sans" font-size="6.2" fill="#2e2e2e" stroke="#2e2e2e" stroke-width="0.14" textLength="6.14" lengthAdjust="spacingAndGlyphs">16</text>
<text x="171.4" y="184.54" text-anchor="middle" font-family="Liberation Sans" font-size="6.2" fill="#2e2e2e" stroke="#2e2e2e" stroke-width="0.14" textLength="6.14" lengthAdjust="spacingAndGlyphs">11</text>
<text x="184.19" y="184.54" text-anchor="middle" font-family="Liberation Sans" font-size="6.2" fill="#2e2e2e" stroke="#2e2e2e" stroke-width="0.14" textLength="3.07" lengthAdjust="spacingAndGlyphs">6</text>
<text x="196.98" y="184.54" text-anchor="middle" font-family="Liberation Sans" font-size="6.2" fill="#2e2e2e" stroke="#2e2e2e" stroke-width="0.14" textLength="3.07" lengthAdjust="spacingAndGlyphs">2</text>
<text x="209.77" y="184.54" text-anchor="middle" font-family="Liberation Sans" font-size="6.2" fill="#2e2e2e" stroke="#2e2e2e" stroke-width="0.14" textLength="3.07" lengthAdjust="spacingAndGlyphs">1</text>
<text x="222.56" y="184.54" text-anchor="middle" font-family="Liberation Sans" font-size="6.2" fill="#2e2e2e" stroke="#2e2e2e" stroke-width="0.14" textLength="3.07" lengthAdjust="spacingAndGlyphs">0</text>
<text x="235.35" y="184.54" text-anchor="middle" font-family="Liberation Sans" font-size="6.2" fill="#2e2e2e" stroke="#2e2e2e" stroke-width="0.14" textLength="3.07" lengthAdjust="spacingAndGlyphs">0</text>
<text x="248.14" y="184.54" text-anchor="middle" font-family="Liberation Sans" font-size="6.2" fill="#2e2e2e" stroke="#2e2e2e" stroke-width="0.14" textLength="3.07" lengthAdjust="spacingAndGlyphs">0</text>
<path d="M85.8 198.3H110" stroke="#34548e" stroke-width="1.2"/>
<path d="M128.9 198.3H152.8" stroke="#b3193f" stroke-width="1.2"/>
<path d="M170.8 198.3H194.8" stroke="#6cb043" stroke-width="1.2"/>
<text x="113" y="200.3" font-family="Liberation Sans" font-size="6.2" fill="#2e2e2e" stroke="#2e2e2e" stroke-width="0.14">LR</text>
<text x="156.2" y="200.3" font-family="Liberation Sans" font-size="6.2" fill="#2e2e2e" stroke="#2e2e2e" stroke-width="0.14">IR</text>
<text x="197.7" y="200.3" font-family="Liberation Sans" font-size="6.2" fill="#2e2e2e" stroke="#2e2e2e" stroke-width="0.14">HR</text>
</g>
<path d="M304.2 27.5 308.1 33.8 311.5 39.6 315 42.5 315 46 319 47.7 321.3 47.7 324.2 50.6 327.7 55.2 330 58.6 333.4 59.2 336.9 62.1 339.8 63.3 345 68.4 349.6 72.5 354.2 75.9 360 80 365.4 85 371.2 86.9 376.9 91.7 384.6 95.6 388.5 99.4 396.2 100.8 403.8 104.6 411.5 106.2 419.2 110 426.9 112.9 432.7 113.9 477.7 113.9" stroke="#6cb043" stroke-width="1.3" fill="none" stroke-linejoin="miter" stroke-miterlimit="3"/>
<path d="M304.2 27.5 309.2 29.2 315 31 320.8 33.3 324.8 35 327.7 39 333.4 42.5 335.8 44.8 340.4 47.1 345 50 348.4 52.3 354.2 54.6 360 56.3 364.6 57.7 370.4 61.3 376.2 64.8 380.8 68.6 386 71 391.3 75 400 78.3 407.7 80.8 417.3 85 426.9 88.8 432.7 91.7 442.3 94 449.2 97.3 451.5 99.6 453.8 101.5 460 102.7 461.5 103.5 473.5 103.5 473.5 108.1 477.7 108.1 477.7 113.2 500 113.2" stroke="#b3193f" stroke-width="1.3" fill="none" stroke-linejoin="miter" stroke-miterlimit="3"/>
<path d="M304.2 27.5 321.9 27.5 323.1 28.7 333.4 28.7 334.6 30.2 338.1 30.5 339.8 31.5 344.4 31.5 346.1 33.6 360 33.6 360.8 34.2 362.3 35.4 369.2 35.4 369.2 39.2 373.1 40.5 380.8 41.5 383.8 42.3 386.2 46.6 393.8 46.9 395.4 48.5 400.8 48.5 403.1 53.4 409.2 53.4 410.8 56.2 418.5 56.2 420.8 59.2 423.1 64.6 424.6 68.2 436.9 68.2 438.5 72.2 450.5 72.2 450.5 77.8 493.1 77.8" stroke="#34548e" stroke-width="1.3" fill="none" stroke-linejoin="miter" stroke-miterlimit="3"/>
<path d="M363.11 35.1v-1.7 M370.83 39.44v-1.7 M382.92 41.76v-1.7 M388.42 46.39v-1.7 M391.21 46.5v-1.7 M407.85 53.1v-1.7 M410.82 55.9v-1.7 M413.29 55.9v-1.7 M415.4 55.9v-1.7 M417.65 55.9v-1.7 M422.81 63.63v-1.7 M428.18 67.9v-1.7 M432.66 67.9v-1.7 M434.95 67.9v-1.7 M441.91 71.9v-1.7 M444.89 71.9v-1.7 M446.92 71.9v-1.7 M449.74 71.9v-1.7 M452.21 77.5v-1.7 M455.09 77.5v-1.7 M458.11 77.5v-1.7 M461.28 77.5v-1.7 M464.21 77.5v-1.7 M493.1 77.5v-1.7 M314.43 30.52v-1.7 M357.13 55.16v-1.7 M380.8 68.3v-1.7 M383.35 69.48v-1.7 M386.45 71.04v-1.7 M388.86 72.86v-1.7 M392.26 75.06v-1.7 M395.16 76.16v-1.7 M397.85 77.19v-1.7 M400.13 78.04v-1.7 M402.24 78.73v-1.7 M404.38 79.42v-1.7 M406.92 80.25v-1.7 M409.28 81.19v-1.7 M413.92 83.22v-1.7 M416.07 84.16v-1.7 M419.34 85.51v-1.7 M421.54 86.38v-1.7 M424.37 87.5v-1.7 M429.97 90.04v-1.7 M432.28 91.19v-1.7 M434.91 91.93v-1.7 M436.93 92.41v-1.7 M439.02 92.91v-1.7 M443.91 94.47v-1.7 M447.08 95.99v-1.7 M452.17 99.85v-1.7 M484.22 112.9v-1.7 M487.12 112.9v-1.7 M494.7 112.9v-1.7 M500 112.9v-1.7 M378.18 92.05v-1.7 M384.06 95.03v-1.7 M386.41 97.06v-1.7 M388.51 99.1v-1.7 M394.2 100.14v-1.7 M396.28 100.54v-1.7 M399.4 102.1v-1.7 M401.79 103.3v-1.7 M409.62 105.51v-1.7 M414.43 107.35v-1.7 M417.2 108.71v-1.7 M419.38 109.77v-1.7 M424.03 111.52v-1.7 M426.28 112.37v-1.7 M428.84 112.94v-1.7 M434.07 113.6v-1.7 M436.43 113.6v-1.7 M439.5 113.6v-1.7 M477.7 113.6v-1.7" stroke="#000" stroke-width="1.05" fill="none"/>
<g transform="translate(0,209.7)">
<text x="7.4" y="17.7" font-family="Liberation Sans" font-weight="bold" font-size="12" fill="#000" stroke="#000" stroke-width="0.45" textLength="8.2" lengthAdjust="spacingAndGlyphs">C</text>
<path d="M39.5 23.9V131.6M39.0 131.2H251.9" stroke="#000" stroke-width="1.1" fill="none"/>
<text x="33.0" y="29.95" text-anchor="end" font-family="Liberation Sans" font-size="7.2" fill="#2e2e2e" stroke="#2e2e2e" stroke-width="0.14" textLength="12.6" lengthAdjust="spacingAndGlyphs">1.00</text>
<text x="33.0" y="54.92" text-anchor="end" font-family="Liberation Sans" font-size="7.2" fill="#2e2e2e" stroke="#2e2e2e" stroke-width="0.14" textLength="12.6" lengthAdjust="spacingAndGlyphs">0.75</text>
<text x="33.0" y="79.89" text-anchor="end" font-family="Liberation Sans" font-size="7.2" fill="#2e2e2e" stroke="#2e2e2e" stroke-width="0.14" textLength="12.6" lengthAdjust="spacingAndGlyphs">0.50</text>
<text x="33.0" y="104.86" text-anchor="end" font-family="Liberation Sans" font-size="7.2" fill="#2e2e2e" stroke="#2e2e2e" stroke-width="0.14" textLength="12.6" lengthAdjust="spacingAndGlyphs">0.25</text>
<text x="33.0" y="129.83" text-anchor="end" font-family="Liberation Sans" font-size="7.2" fill="#2e2e2e" stroke="#2e2e2e" stroke-width="0.14" textLength="12.6" lengthAdjust="spacingAndGlyphs">0.00</text>
<text x="43.5" y="143.6" text-anchor="middle" font-family="Liberation Sans" font-size="8.1" fill="#2e2e2e" stroke="#2e2e2e" stroke-width="0.14" textLength="3.6" lengthAdjust="spacingAndGlyphs">0</text>
<text x="56.29" y="143.6" text-anchor="middle" font-family="Liberation Sans" font-size="8.1" fill="#2e2e2e" stroke="#2e2e2e" stroke-width="0.14" textLength="3.6" lengthAdjust="spacingAndGlyphs">1</text>
<text x="69.08" y="143.6" text-anchor="middle" font-family="Liberation Sans" font-size="8.1" fill="#2e2e2e" stroke="#2e2e2e" stroke-width="0.14" textLength="3.6" lengthAdjust="spacingAndGlyphs">2</text>
<text x="81.87" y="143.6" text-anchor="middle" font-family="Liberation Sans" font-size="8.1" fill="#2e2e2e" stroke="#2e2e2e" stroke-width="0.14" textLength="3.6" lengthAdjust="spacingAndGlyphs">3</text>
<text x="94.66" y="143.6" text-anchor="middle" font-family="Liberation Sans" font-size="8.1" fill="#2e2e2e" stroke="#2e2e2e" stroke-width="0.14" textLength="3.6" lengthAdjust="spacingAndGlyphs">4</text>
<text x="107.45" y="143.6" text-anchor="middle" font-family="Liberation Sans" font-size="8.1" fill="#2e2e2e" stroke="#2e2e2e" stroke-width="0.14" textLength="3.6" lengthAdjust="spacingAndGlyphs">5</text>
<text x="120.24" y="143.6" text-anchor="middle" font-family="Liberation Sans" font-size="8.1" fill="#2e2e2e" stroke="#2e2e2e" stroke-width="0.14" textLength="3.6" lengthAdjust="spacingAndGlyphs">6</text>
<text x="133.03" y="143.6" text-anchor="middle" font-family="Liberation Sans" font-size="8.1" fill="#2e2e2e" stroke="#2e2e2e" stroke-width="0.14" textLength="3.6" lengthAdjust="spacingAndGlyphs">7</text>
<text x="145.82" y="143.6" text-anchor="middle" font-family="Liberation Sans" font-size="8.1" fill="#2e2e2e" stroke="#2e2e2e" stroke-width="0.14" textLength="3.6" lengthAdjust="spacingAndGlyphs">8</text>
<text x="158.61" y="143.6" text-anchor="middle" font-family="Liberation Sans" font-size="8.1" fill="#2e2e2e" stroke="#2e2e2e" stroke-width="0.14" textLength="3.6" lengthAdjust="spacingAndGlyphs">9</text>
<text x="171.4" y="143.6" text-anchor="middle" font-family="Liberation Sans" font-size="8.1" fill="#2e2e2e" stroke="#2e2e2e" stroke-width="0.14" textLength="7.2" lengthAdjust="spacingAndGlyphs">10</text>
<text x="184.19" y="143.6" text-anchor="middle" font-family="Liberation Sans" font-size="8.1" fill="#2e2e2e" stroke="#2e2e2e" stroke-width="0.14" textLength="7.2" lengthAdjust="spacingAndGlyphs">11</text>
<text x="196.98" y="143.6" text-anchor="middle" font-family="Liberation Sans" font-size="8.1" fill="#2e2e2e" stroke="#2e2e2e" stroke-width="0.14" textLength="7.2" lengthAdjust="spacingAndGlyphs">12</text>
<text x="209.77" y="143.6" text-anchor="middle" font-family="Liberation Sans" font-size="8.1" fill="#2e2e2e" stroke="#2e2e2e" stroke-width="0.14" textLength="7.2" lengthAdjust="spacingAndGlyphs">13</text>
<text x="222.56" y="143.6" text-anchor="middle" font-family="Liberation Sans" font-size="8.1" fill="#2e2e2e" stroke="#2e2e2e" stroke-width="0.14" textLength="7.2" lengthAdjust="spacingAndGlyphs">14</text>
<text x="235.35" y="143.6" text-anchor="middle" font-family="Liberation Sans" font-size="8.1" fill="#2e2e2e" stroke="#2e2e2e" stroke-width="0.14" textLength="7.2" lengthAdjust="spacingAndGlyphs">15</text>
<text x="248.14" y="143.6" text-anchor="middle" font-family="Liberation Sans" font-size="8.1" fill="#2e2e2e" stroke="#2e2e2e" stroke-width="0.14" textLength="7.2" lengthAdjust="spacingAndGlyphs">16</text>
<path d="M36.1 27.5H39.5 M36.1 52.47H39.5 M36.1 77.44H39.5 M36.1 102.41H39.5 M36.1 127.38H39.5 M43.5 131.2V134.5 M56.29 131.2V134.5 M69.08 131.2V134.5 M81.87 131.2V134.5 M94.66 131.2V134.5 M107.45 131.2V134.5 M120.24 131.2V134.5 M133.03 131.2V134.5 M145.82 131.2V134.5 M158.61 131.2V134.5 M171.4 131.2V134.5 M184.19 131.2V134.5 M196.98 131.2V134.5 M209.77 131.2V134.5 M222.56 131.2V134.5 M235.35 131.2V134.5 M248.14 131.2V134.5" stroke="#000" stroke-width="1" fill="none"/>
<text x="121.3" y="155.6" font-family="Liberation Sans" font-size="9.1" fill="#1a1a1a" stroke="#1a1a1a" stroke-width="0.22" textLength="48.8" lengthAdjust="spacingAndGlyphs">Follow-up in years</text>
<text transform="translate(15.0,97.6) rotate(-90)" x="0" y="0" font-family="Liberation Sans" font-size="9.0" fill="#1a1a1a" stroke="#1a1a1a" stroke-width="0.22" textLength="39.6" lengthAdjust="spacingAndGlyphs">Overall survival</text>
<text x="172.0" y="33.9" font-family="Liberation Sans" font-size="5.9" fill="#222" stroke="#222" stroke-width="0.1" textLength="23.3" lengthAdjust="spacingAndGlyphs">P &lt; 0.001</text>
<text x="33.2" y="166.34" text-anchor="end" font-family="Liberation Sans" font-size="6.2" fill="#2e2e2e" stroke="#2e2e2e" stroke-width="0.14">LR</text>
<text x="43.5" y="166.34" text-anchor="middle" font-family="Liberation Sans" font-size="6.2" fill="#2e2e2e" stroke="#2e2e2e" stroke-width="0.14" textLength="6.14" lengthAdjust="spacingAndGlyphs">73</text>
<text x="56.29" y="166.34" text-anchor="middle" font-family="Liberation Sans" font-size="6.2" fill="#2e2e2e" stroke="#2e2e2e" stroke-width="0.14" textLength="6.14" lengthAdjust="spacingAndGlyphs">73</text>
<text x="69.08" y="166.34" text-anchor="middle" font-family="Liberation Sans" font-size="6.2" fill="#2e2e2e" stroke="#2e2e2e" stroke-width="0.14" textLength="6.14" lengthAdjust="spacingAndGlyphs">72</text>
<text x="81.87" y="166.34" text-anchor="middle" font-family="Liberation Sans" font-size="6.2" fill="#2e2e2e" stroke="#2e2e2e" stroke-width="0.14" textLength="6.14" lengthAdjust="spacingAndGlyphs">68</text>
<text x="94.66" y="166.34" text-anchor="middle" font-family="Liberation Sans" font-size="6.2" fill="#2e2e2e" stroke="#2e2e2e" stroke-width="0.14" textLength="6.14" lengthAdjust="spacingAndGlyphs">66</text>
<text x="107.45" y="166.34" text-anchor="middle" font-family="Liberation Sans" font-size="6.2" fill="#2e2e2e" stroke="#2e2e2e" stroke-width="0.14" textLength="6.14" lengthAdjust="spacingAndGlyphs">65</text>
<text x="120.24" y="166.34" text-anchor="middle" font-family="Liberation Sans" font-size="6.2" fill="#2e2e2e" stroke="#2e2e2e" stroke-width="0.14" textLength="6.14" lengthAdjust="spacingAndGlyphs">59</text>
<text x="133.03" y="166.34" text-anchor="middle" font-family="Liberation Sans" font-size="6.2" fill="#2e2e2e" stroke="#2e2e2e" stroke-width="0.14" textLength="6.14" lengthAdjust="spacingAndGlyphs">42</text>
<text x="145.82" y="166.34" text-anchor="middle" font-family="Liberation Sans" font-size="6.2" fill="#2e2e2e" stroke="#2e2e2e" stroke-width="0.14" textLength="6.14" lengthAdjust="spacingAndGlyphs">35</text>
<text x="158.61" y="166.34" text-anchor="middle" font-family="Liberation Sans" font-size="6.2" fill="#2e2e2e" stroke="#2e2e2e" stroke-width="0.14" textLength="6.14" lengthAdjust="spacingAndGlyphs">29</text>
<text x="171.4" y="166.34" text-anchor="middle" font-family="Liberation Sans" font-size="6.2" fill="#2e2e2e" stroke="#2e2e2e" stroke-width="0.14" textLength="6.14" lengthAdjust="spacingAndGlyphs">18</text>
<text x="184.19" y="166.34" text-anchor="middle" font-family="Liberation Sans" font-size="6.2" fill="#2e2e2e" stroke="#2e2e2e" stroke-width="0.14" textLength="6.14" lengthAdjust="spacingAndGlyphs">13</text>
<text x="196.98" y="166.34" text-anchor="middle" font-family="Liberation Sans" font-size="6.2" fill="#2e2e2e" stroke="#2e2e2e" stroke-width="0.14" textLength="6.14" lengthAdjust="spacingAndGlyphs">10</text>
<text x="209.77" y="166.34" text-anchor="middle" font-family="Liberation Sans" font-size="6.2" fill="#2e2e2e" stroke="#2e2e2e" stroke-width="0.14" textLength="3.07" lengthAdjust="spacingAndGlyphs">5</text>
<text x="222.56" y="166.34" text-anchor="middle" font-family="Liberation Sans" font-size="6.2" fill="#2e2e2e" stroke="#2e2e2e" stroke-width="0.14" textLength="3.07" lengthAdjust="spacingAndGlyphs">3</text>
<text x="235.35" y="166.34" text-anchor="middle" font-family="Liberation Sans" font-size="6.2" fill="#2e2e2e" stroke="#2e2e2e" stroke-width="0.14" textLength="3.07" lengthAdjust="spacingAndGlyphs">0</text>
<text x="248.14" y="166.34" text-anchor="middle" font-family="Liberation Sans" font-size="6.2" fill="#2e2e2e" stroke="#2e2e2e" stroke-width="0.14" textLength="3.07" lengthAdjust="spacingAndGlyphs">0</text>
<text x="33.2" y="175.44" text-anchor="end" font-family="Liberation Sans" font-size="6.2" fill="#2e2e2e" stroke="#2e2e2e" stroke-width="0.14">IR</text>
<text x="43.5" y="175.44" text-anchor="middle" font-family="Liberation Sans" font-size="6.2" fill="#2e2e2e" stroke="#2e2e2e" stroke-width="0.14" textLength="9.21" lengthAdjust="spacingAndGlyphs">236</text>
<text x="56.29" y="175.44" text-anchor="middle" font-family="Liberation Sans" font-size="6.2" fill="#2e2e2e" stroke="#2e2e2e" stroke-width="0.14" textLength="9.21" lengthAdjust="spacingAndGlyphs">228</text>
<text x="69.08" y="175.44" text-anchor="middle" font-family="Liberation Sans" font-size="6.2" fill="#2e2e2e" stroke="#2e2e2e" stroke-width="0.14" textLength="9.21" lengthAdjust="spacingAndGlyphs">209</text>
<text x="81.87" y="175.44" text-anchor="middle" font-family="Liberation Sans" font-size="6.2" fill="#2e2e2e" stroke="#2e2e2e" stroke-width="0.14" textLength="9.21" lengthAdjust="spacingAndGlyphs">187</text>
<text x="94.66" y="175.44" text-anchor="middle" font-family="Liberation Sans" font-size="6.2" fill="#2e2e2e" stroke="#2e2e2e" stroke-width="0.14" textLength="9.21" lengthAdjust="spacingAndGlyphs">173</text>
<text x="107.45" y="175.44" text-anchor="middle" font-family="Liberation Sans" font-size="6.2" fill="#2e2e2e" stroke="#2e2e2e" stroke-width="0.14" textLength="9.21" lengthAdjust="spacingAndGlyphs">158</text>
<text x="120.24" y="175.44" text-anchor="middle" font-family="Liberation Sans" font-size="6.2" fill="#2e2e2e" stroke="#2e2e2e" stroke-width="0.14" textLength="9.21" lengthAdjust="spacingAndGlyphs">133</text>
<text x="133.03" y="175.44" text-anchor="middle" font-family="Liberation Sans" font-size="6.2" fill="#2e2e2e" stroke="#2e2e2e" stroke-width="0.14" textLength="9.21" lengthAdjust="spacingAndGlyphs">101</text>
<text x="145.82" y="175.44" text-anchor="middle" font-family="Liberation Sans" font-size="6.2" fill="#2e2e2e" stroke="#2e2e2e" stroke-width="0.14" textLength="6.14" lengthAdjust="spacingAndGlyphs">86</text>
<text x="158.61" y="175.44" text-anchor="middle" font-family="Liberation Sans" font-size="6.2" fill="#2e2e2e" stroke="#2e2e2e" stroke-width="0.14" textLength="6.14" lengthAdjust="spacingAndGlyphs">66</text>
<text x="171.4" y="175.44" text-anchor="middle" font-family="Liberation Sans" font-size="6.2" fill="#2e2e2e" stroke="#2e2e2e" stroke-width="0.14" textLength="6.14" lengthAdjust="spacingAndGlyphs">47</text>
<text x="184.19" y="175.44" text-anchor="middle" font-family="Liberation Sans" font-size="6.2" fill="#2e2e2e" stroke="#2e2e2e" stroke-width="0.14" textLength="6.14" lengthAdjust="spacingAndGlyphs">27</text>
<text x="196.98" y="175.44" text-anchor="middle" font-family="Liberation Sans" font-size="6.2" fill="#2e2e2e" stroke="#2e2e2e" stroke-width="0.14" textLength="6.14" lengthAdjust="spacingAndGlyphs">14</text>
<text x="209.77" y="175.44" text-anchor="middle" font-family="Liberation Sans" font-size="6.2" fill="#2e2e2e" stroke="#2e2e2e" stroke-width="0.14" textLength="3.07" lengthAdjust="spacingAndGlyphs">4</text>
<text x="222.56" y="175.44" text-anchor="middle" font-family="Liberation Sans" font-size="6.2" fill="#2e2e2e" stroke="#2e2e2e" stroke-width="0.14" textLength="3.07" lengthAdjust="spacingAndGlyphs">1</text>
<text x="235.35" y="175.44" text-anchor="middle" font-family="Liberation Sans" font-size="6.2" fill="#2e2e2e" stroke="#2e2e2e" stroke-width="0.14" textLength="3.07" lengthAdjust="spacingAndGlyphs">0</text>
<text x="248.14" y="175.44" text-anchor="middle" font-family="Liberation Sans" font-size="6.2" fill="#2e2e2e" stroke="#2e2e2e" stroke-width="0.14" textLength="3.07" lengthAdjust="spacingAndGlyphs">0</text>
<text x="33.2" y="184.54" text-anchor="end" font-family="Liberation Sans" font-size="6.2" fill="#2e2e2e" stroke="#2e2e2e" stroke-width="0.14">HR</text>
<text x="43.5" y="184.54" text-anchor="middle" font-family="Liberation Sans" font-size="6.2" fill="#2e2e2e" stroke="#2e2e2e" stroke-width="0.14" textLength="9.21" lengthAdjust="spacingAndGlyphs">174</text>
<text x="56.29" y="184.54" text-anchor="middle" font-family="Liberation Sans" font-size="6.2" fill="#2e2e2e" stroke="#2e2e2e" stroke-width="0.14" textLength="9.21" lengthAdjust="spacingAndGlyphs">141</text>
<text x="69.08" y="184.54" text-anchor="middle" font-family="Liberation Sans" font-size="6.2" fill="#2e2e2e" stroke="#2e2e2e" stroke-width="0.14" textLength="9.21" lengthAdjust="spacingAndGlyphs">117</text>
<text x="81.87" y="184.54" text-anchor="middle" font-family="Liberation Sans" font-size="6.2" fill="#2e2e2e" stroke="#2e2e2e" stroke-width="0.14" textLength="9.21" lengthAdjust="spacingAndGlyphs">104</text>
<text x="94.66" y="184.54" text-anchor="middle" font-family="Liberation Sans" font-size="6.2" fill="#2e2e2e" stroke="#2e2e2e" stroke-width="0.14" textLength="6.14" lengthAdjust="spacingAndGlyphs">85</text>
<text x="107.45" y="184.54" text-anchor="middle" font-family="Liberation Sans" font-size="6.2" fill="#2e2e2e" stroke="#2e2e2e" stroke-width="0.14" textLength="6.14" lengthAdjust="spacingAndGlyphs">72</text>
<text x="120.24" y="184.54" text-anchor="middle" font-family="Liberation Sans" font-size="6.2" fill="#2e2e2e" stroke="#2e2e2e" stroke-width="0.14" textLength="6.14" lengthAdjust="spacingAndGlyphs">58</text>
<text x="133.03" y="184.54" text-anchor="middle" font-family="Liberation Sans" font-size="6.2" fill="#2e2e2e" stroke="#2e2e2e" stroke-width="0.14" textLength="6.14" lengthAdjust="spacingAndGlyphs">35</text>
<text x="145.82" y="184.54" text-anchor="middle" font-family="Liberation Sans" font-size="6.2" fill="#2e2e2e" stroke="#2e2e2e" stroke-width="0.14" textLength="6.14" lengthAdjust="spacingAndGlyphs">27</text>
<text x="158.61" y="184.54" text-anchor="middle" font-family="Liberation Sans" font-size="6.2" fill="#2e2e2e" stroke="#2e2e2e" stroke-width="0.14" textLength="6.14" lengthAdjust="spacingAndGlyphs">17</text>
<text x="171.4" y="184.54" text-anchor="middle" font-family="Liberation Sans" font-size="6.2" fill="#2e2e2e" stroke="#2e2e2e" stroke-width="0.14" textLength="6.14" lengthAdjust="spacingAndGlyphs">13</text>
<text x="184.19" y="184.54" text-anchor="middle" font-family="Liberation Sans" font-size="6.2" fill="#2e2e2e" stroke="#2e2e2e" stroke-width="0.14" textLength="3.07" lengthAdjust="spacingAndGlyphs">7</text>
<text x="196.98" y="184.54" text-anchor="middle" font-family="Liberation Sans" font-size="6.2" fill="#2e2e2e" stroke="#2e2e2e" stroke-width="0.14" textLength="3.07" lengthAdjust="spacingAndGlyphs">3</text>
<text x="209.77" y="184.54" text-anchor="middle" font-family="Liberation Sans" font-size="6.2" fill="#2e2e2e" stroke="#2e2e2e" stroke-width="0.14" textLength="3.07" lengthAdjust="spacingAndGlyphs">2</text>
<text x="222.56" y="184.54" text-anchor="middle" font-family="Liberation Sans" font-size="6.2" fill="#2e2e2e" stroke="#2e2e2e" stroke-width="0.14" textLength="3.07" lengthAdjust="spacingAndGlyphs">1</text>
<text x="235.35" y="184.54" text-anchor="middle" font-family="Liberation Sans" font-size="6.2" fill="#2e2e2e" stroke="#2e2e2e" stroke-width="0.14" textLength="3.07" lengthAdjust="spacingAndGlyphs">1</text>
<text x="248.14" y="184.54" text-anchor="middle" font-family="Liberation Sans" font-size="6.2" fill="#2e2e2e" stroke="#2e2e2e" stroke-width="0.14" textLength="3.07" lengthAdjust="spacingAndGlyphs">0</text>
<path d="M85.8 198.3H110" stroke="#34548e" stroke-width="1.2"/>
<path d="M128.9 198.3H152.8" stroke="#b3193f" stroke-width="1.2"/>
<path d="M170.8 198.3H194.8" stroke="#6cb043" stroke-width="1.2"/>
<text x="113" y="200.3" font-family="Liberation Sans" font-size="6.2" fill="#2e2e2e" stroke="#2e2e2e" stroke-width="0.14">LR</text>
<text x="156.2" y="200.3" font-family="Liberation Sans" font-size="6.2" fill="#2e2e2e" stroke="#2e2e2e" stroke-width="0.14">IR</text>
<text x="197.7" y="200.3" font-family="Liberation Sans" font-size="6.2" fill="#2e2e2e" stroke="#2e2e2e" stroke-width="0.14">HR</text>
</g>
<path d="M43.5 237.2 46.9 242.7 49.2 247.3 51.5 250.2 54.4 251.3 54.4 254.8 57.3 257.7 60.8 259.4 64.2 262.3 66 265.2 68.8 269.2 72.3 269.8 75.8 272.7 79.2 275 83.8 279 88.5 283.1 93.1 286.5 100 290 105.4 294 113.1 297.9 120.8 302.7 126.5 308.5 134.2 310.4 141.9 314.2 147.7 316.2 155.4 319.6 165 322.3 172.7 322.9 180 323.2 184.6 325.3 239.2 325.3" stroke="#6cb043" stroke-width="1.3" fill="none" stroke-linejoin="miter" stroke-miterlimit="3"/>
<path d="M43.5 237.2 48.1 238.7 52.7 240.4 57.3 242.1 62.5 243.3 64.8 244.4 67.1 247.3 72.3 250.8 74.6 253.6 79.2 255.4 83.8 257.7 89.6 260.6 94.2 262.3 100 264.6 104.6 268.5 110.4 271.3 115.6 275.5 120.8 278.6 126 282 133.6 285.8 143.8 289 153.5 292.1 162.7 296.9 170.8 300.8 180.4 303.2 186.2 304.7 190 306.5 192.3 310.8 212.3 310.8 212.3 319.6 216.9 319.6 216.9 328.4 233.1 328.4" stroke="#b3193f" stroke-width="1.3" fill="none" stroke-linejoin="miter" stroke-miterlimit="3"/>
<path d="M43.5 237.2 61.3 237.2 62.5 238.7 71.1 238.7 73.4 241.5 76.9 241.5 78.6 242.7 81.5 244.4 85 246.7 86.7 247.3 98.8 247.3 99.4 248.5 100 246.9 101.5 248.2 108.5 248.2 108.5 252.3 113.8 252.3 115.4 253.8 121.5 254.6 125.4 258.2 133.1 260.8 139.2 262.3 142.3 266.2 148.5 266.2 150 268.5 157.7 268.5 160.8 272.3 163.1 277.7 176.2 277.7 177.7 281.9 190 281.9 190 286.5 198.8 286.5 198.8 292.4 233.8 292.4" stroke="#34548e" stroke-width="1.3" fill="none" stroke-linejoin="miter" stroke-miterlimit="3"/>
<path d="M71.11 238.41v-1.7 M122.23 254.97v-1.7 M125.06 257.58v-1.7 M127.43 258.59v-1.7 M138.43 261.81v-1.7 M141.11 264.4v-1.7 M143.98 265.9v-1.7 M146.54 265.9v-1.7 M149 266.67v-1.7 M154.43 268.2v-1.7 M157.39 268.2v-1.7 M163.17 277.4v-1.7 M166.15 277.4v-1.7 M168.31 277.4v-1.7 M170.62 277.4v-1.7 M173.65 277.4v-1.7 M176.32 277.74v-1.7 M178.81 281.6v-1.7 M184.45 281.6v-1.7 M186.59 281.6v-1.7 M189.36 281.6v-1.7 M194.52 286.2v-1.7 M197.53 286.2v-1.7 M203.35 292.1v-1.7 M211.26 292.1v-1.7 M229.9 292.1v-1.7 M233.8 292.1v-1.7 M117.87 276.55v-1.7 M120.3 278v-1.7 M122.74 279.57v-1.7 M124.89 280.97v-1.7 M130.6 284v-1.7 M132.61 285v-1.7 M135.98 286.25v-1.7 M141.56 288v-1.7 M144.13 288.81v-1.7 M147.47 289.87v-1.7 M150.83 290.95v-1.7 M153.29 291.73v-1.7 M155.77 292.99v-1.7 M157.96 294.13v-1.7 M160.04 295.21v-1.7 M163.27 296.87v-1.7 M165.91 298.14v-1.7 M168.87 299.57v-1.7 M171.2 300.6v-1.7 M173.7 301.22v-1.7 M177.08 302.07v-1.7 M181.53 303.19v-1.7 M184.12 303.86v-1.7 M190.49 307.12v-1.7 M192.94 310.5v-1.7 M215.07 319.3v-1.7 M229.23 328.1v-1.7 M233.1 328.1v-1.7 M59.07 258.26v-1.7 M69.95 269.1v-1.7 M80.58 275.9v-1.7 M100.07 289.76v-1.7 M116.49 299.71v-1.7 M119.05 301.31v-1.7 M122.42 304.04v-1.7 M124.95 306.63v-1.7 M130.14 309.1v-1.7 M133.26 309.87v-1.7 M136.66 311.31v-1.7 M142.18 314v-1.7 M145.11 315.01v-1.7 M151.97 317.79v-1.7 M154.76 319.02v-1.7 M157.78 319.97v-1.7 M168.83 322.3v-1.7 M212.94 325v-1.7 M230.48 325v-1.7 M232.86 325v-1.7 M239.2 325v-1.7" stroke="#000" stroke-width="1.05" fill="none"/>
<g transform="translate(260.7,209.7)">
<text x="7.4" y="17.7" font-family="Liberation Sans" font-weight="bold" font-size="12" fill="#000" stroke="#000" stroke-width="0.45" textLength="8.2" lengthAdjust="spacingAndGlyphs">D</text>
<path d="M39.5 23.9V131.6M39.0 131.2H251.9" stroke="#000" stroke-width="1.1" fill="none"/>
<text x="33.0" y="29.95" text-anchor="end" font-family="Liberation Sans" font-size="7.2" fill="#2e2e2e" stroke="#2e2e2e" stroke-width="0.14" textLength="12.6" lengthAdjust="spacingAndGlyphs">1.00</text>
<text x="33.0" y="54.92" text-anchor="end" font-family="Liberation Sans" font-size="7.2" fill="#2e2e2e" stroke="#2e2e2e" stroke-width="0.14" textLength="12.6" lengthAdjust="spacingAndGlyphs">0.75</text>
<text x="33.0" y="79.89" text-anchor="end" font-family="Liberation Sans" font-size="7.2" fill="#2e2e2e" stroke="#2e2e2e" stroke-width="0.14" textLength="12.6" lengthAdjust="spacingAndGlyphs">0.50</text>
<text x="33.0" y="104.86" text-anchor="end" font-family="Liberation Sans" font-size="7.2" fill="#2e2e2e" stroke="#2e2e2e" stroke-width="0.14" textLength="12.6" lengthAdjust="spacingAndGlyphs">0.25</text>
<text x="33.0" y="129.83" text-anchor="end" font-family="Liberation Sans" font-size="7.2" fill="#2e2e2e" stroke="#2e2e2e" stroke-width="0.14" textLength="12.6" lengthAdjust="spacingAndGlyphs">0.00</text>
<text x="43.5" y="143.6" text-anchor="middle" font-family="Liberation Sans" font-size="8.1" fill="#2e2e2e" stroke="#2e2e2e" stroke-width="0.14" textLength="3.6" lengthAdjust="spacingAndGlyphs">0</text>
<text x="56.29" y="143.6" text-anchor="middle" font-family="Liberation Sans" font-size="8.1" fill="#2e2e2e" stroke="#2e2e2e" stroke-width="0.14" textLength="3.6" lengthAdjust="spacingAndGlyphs">1</text>
<text x="69.08" y="143.6" text-anchor="middle" font-family="Liberation Sans" font-size="8.1" fill="#2e2e2e" stroke="#2e2e2e" stroke-width="0.14" textLength="3.6" lengthAdjust="spacingAndGlyphs">2</text>
<text x="81.87" y="143.6" text-anchor="middle" font-family="Liberation Sans" font-size="8.1" fill="#2e2e2e" stroke="#2e2e2e" stroke-width="0.14" textLength="3.6" lengthAdjust="spacingAndGlyphs">3</text>
<text x="94.66" y="143.6" text-anchor="middle" font-family="Liberation Sans" font-size="8.1" fill="#2e2e2e" stroke="#2e2e2e" stroke-width="0.14" textLength="3.6" lengthAdjust="spacingAndGlyphs">4</text>
<text x="107.45" y="143.6" text-anchor="middle" font-family="Liberation Sans" font-size="8.1" fill="#2e2e2e" stroke="#2e2e2e" stroke-width="0.14" textLength="3.6" lengthAdjust="spacingAndGlyphs">5</text>
<text x="120.24" y="143.6" text-anchor="middle" font-family="Liberation Sans" font-size="8.1" fill="#2e2e2e" stroke="#2e2e2e" stroke-width="0.14" textLength="3.6" lengthAdjust="spacingAndGlyphs">6</text>
<text x="133.03" y="143.6" text-anchor="middle" font-family="Liberation Sans" font-size="8.1" fill="#2e2e2e" stroke="#2e2e2e" stroke-width="0.14" textLength="3.6" lengthAdjust="spacingAndGlyphs">7</text>
<text x="145.82" y="143.6" text-anchor="middle" font-family="Liberation Sans" font-size="8.1" fill="#2e2e2e" stroke="#2e2e2e" stroke-width="0.14" textLength="3.6" lengthAdjust="spacingAndGlyphs">8</text>
<text x="158.61" y="143.6" text-anchor="middle" font-family="Liberation Sans" font-size="8.1" fill="#2e2e2e" stroke="#2e2e2e" stroke-width="0.14" textLength="3.6" lengthAdjust="spacingAndGlyphs">9</text>
<text x="171.4" y="143.6" text-anchor="middle" font-family="Liberation Sans" font-size="8.1" fill="#2e2e2e" stroke="#2e2e2e" stroke-width="0.14" textLength="7.2" lengthAdjust="spacingAndGlyphs">10</text>
<text x="184.19" y="143.6" text-anchor="middle" font-family="Liberation Sans" font-size="8.1" fill="#2e2e2e" stroke="#2e2e2e" stroke-width="0.14" textLength="7.2" lengthAdjust="spacingAndGlyphs">11</text>
<text x="196.98" y="143.6" text-anchor="middle" font-family="Liberation Sans" font-size="8.1" fill="#2e2e2e" stroke="#2e2e2e" stroke-width="0.14" textLength="7.2" lengthAdjust="spacingAndGlyphs">12</text>
<text x="209.77" y="143.6" text-anchor="middle" font-family="Liberation Sans" font-size="8.1" fill="#2e2e2e" stroke="#2e2e2e" stroke-width="0.14" textLength="7.2" lengthAdjust="spacingAndGlyphs">13</text>
<text x="222.56" y="143.6" text-anchor="middle" font-family="Liberation Sans" font-size="8.1" fill="#2e2e2e" stroke="#2e2e2e" stroke-width="0.14" textLength="7.2" lengthAdjust="spacingAndGlyphs">14</text>
<text x="235.35" y="143.6" text-anchor="middle" font-family="Liberation Sans" font-size="8.1" fill="#2e2e2e" stroke="#2e2e2e" stroke-width="0.14" textLength="7.2" lengthAdjust="spacingAndGlyphs">15</text>
<text x="248.14" y="143.6" text-anchor="middle" font-family="Liberation Sans" font-size="8.1" fill="#2e2e2e" stroke="#2e2e2e" stroke-width="0.14" textLength="7.2" lengthAdjust="spacingAndGlyphs">16</text>
<path d="M36.1 27.5H39.5 M36.1 52.47H39.5 M36.1 77.44H39.5 M36.1 102.41H39.5 M36.1 127.38H39.5 M43.5 131.2V134.5 M56.29 131.2V134.5 M69.08 131.2V134.5 M81.87 131.2V134.5 M94.66 131.2V134.5 M107.45 131.2V134.5 M120.24 131.2V134.5 M133.03 131.2V134.5 M145.82 131.2V134.5 M158.61 131.2V134.5 M171.4 131.2V134.5 M184.19 131.2V134.5 M196.98 131.2V134.5 M209.77 131.2V134.5 M222.56 131.2V134.5 M235.35 131.2V134.5 M248.14 131.2V134.5" stroke="#000" stroke-width="1" fill="none"/>
<text x="121.3" y="155.6" font-family="Liberation Sans" font-size="9.1" fill="#1a1a1a" stroke="#1a1a1a" stroke-width="0.22" textLength="48.8" lengthAdjust="spacingAndGlyphs">Follow-up in years</text>
<text transform="translate(15.0,97.6) rotate(-90)" x="0" y="0" font-family="Liberation Sans" font-size="9.0" fill="#1a1a1a" stroke="#1a1a1a" stroke-width="0.22" textLength="39.6" lengthAdjust="spacingAndGlyphs">Overall survival</text>
<text x="172.0" y="33.9" font-family="Liberation Sans" font-size="5.9" fill="#222" stroke="#222" stroke-width="0.1" textLength="23.3" lengthAdjust="spacingAndGlyphs">P &lt; 0.001</text>
<text x="33.2" y="166.34" text-anchor="end" font-family="Liberation Sans" font-size="6.2" fill="#2e2e2e" stroke="#2e2e2e" stroke-width="0.14">LR</text>
<text x="43.5" y="166.34" text-anchor="middle" font-family="Liberation Sans" font-size="6.2" fill="#2e2e2e" stroke="#2e2e2e" stroke-width="0.14" textLength="6.14" lengthAdjust="spacingAndGlyphs">76</text>
<text x="56.29" y="166.34" text-anchor="middle" font-family="Liberation Sans" font-size="6.2" fill="#2e2e2e" stroke="#2e2e2e" stroke-width="0.14" textLength="6.14" lengthAdjust="spacingAndGlyphs">76</text>
<text x="69.08" y="166.34" text-anchor="middle" font-family="Liberation Sans" font-size="6.2" fill="#2e2e2e" stroke="#2e2e2e" stroke-width="0.14" textLength="6.14" lengthAdjust="spacingAndGlyphs">75</text>
<text x="81.87" y="166.34" text-anchor="middle" font-family="Liberation Sans" font-size="6.2" fill="#2e2e2e" stroke="#2e2e2e" stroke-width="0.14" textLength="6.14" lengthAdjust="spacingAndGlyphs">71</text>
<text x="94.66" y="166.34" text-anchor="middle" font-family="Liberation Sans" font-size="6.2" fill="#2e2e2e" stroke="#2e2e2e" stroke-width="0.14" textLength="6.14" lengthAdjust="spacingAndGlyphs">68</text>
<text x="107.45" y="166.34" text-anchor="middle" font-family="Liberation Sans" font-size="6.2" fill="#2e2e2e" stroke="#2e2e2e" stroke-width="0.14" textLength="6.14" lengthAdjust="spacingAndGlyphs">67</text>
<text x="120.24" y="166.34" text-anchor="middle" font-family="Liberation Sans" font-size="6.2" fill="#2e2e2e" stroke="#2e2e2e" stroke-width="0.14" textLength="6.14" lengthAdjust="spacingAndGlyphs">61</text>
<text x="133.03" y="166.34" text-anchor="middle" font-family="Liberation Sans" font-size="6.2" fill="#2e2e2e" stroke="#2e2e2e" stroke-width="0.14" textLength="6.14" lengthAdjust="spacingAndGlyphs">44</text>
<text x="145.82" y="166.34" text-anchor="middle" font-family="Liberation Sans" font-size="6.2" fill="#2e2e2e" stroke="#2e2e2e" stroke-width="0.14" textLength="6.14" lengthAdjust="spacingAndGlyphs">36</text>
<text x="158.61" y="166.34" text-anchor="middle" font-family="Liberation Sans" font-size="6.2" fill="#2e2e2e" stroke="#2e2e2e" stroke-width="0.14" textLength="6.14" lengthAdjust="spacingAndGlyphs">30</text>
<text x="171.4" y="166.34" text-anchor="middle" font-family="Liberation Sans" font-size="6.2" fill="#2e2e2e" stroke="#2e2e2e" stroke-width="0.14" textLength="6.14" lengthAdjust="spacingAndGlyphs">18</text>
<text x="184.19" y="166.34" text-anchor="middle" font-family="Liberation Sans" font-size="6.2" fill="#2e2e2e" stroke="#2e2e2e" stroke-width="0.14" textLength="6.14" lengthAdjust="spacingAndGlyphs">13</text>
<text x="196.98" y="166.34" text-anchor="middle" font-family="Liberation Sans" font-size="6.2" fill="#2e2e2e" stroke="#2e2e2e" stroke-width="0.14" textLength="6.14" lengthAdjust="spacingAndGlyphs">10</text>
<text x="209.77" y="166.34" text-anchor="middle" font-family="Liberation Sans" font-size="6.2" fill="#2e2e2e" stroke="#2e2e2e" stroke-width="0.14" textLength="3.07" lengthAdjust="spacingAndGlyphs">5</text>
<text x="222.56" y="166.34" text-anchor="middle" font-family="Liberation Sans" font-size="6.2" fill="#2e2e2e" stroke="#2e2e2e" stroke-width="0.14" textLength="3.07" lengthAdjust="spacingAndGlyphs">3</text>
<text x="235.35" y="166.34" text-anchor="middle" font-family="Liberation Sans" font-size="6.2" fill="#2e2e2e" stroke="#2e2e2e" stroke-width="0.14" textLength="3.07" lengthAdjust="spacingAndGlyphs">0</text>
<text x="248.14" y="166.34" text-anchor="middle" font-family="Liberation Sans" font-size="6.2" fill="#2e2e2e" stroke="#2e2e2e" stroke-width="0.14" textLength="3.07" lengthAdjust="spacingAndGlyphs">0</text>
<text x="33.2" y="175.44" text-anchor="end" font-family="Liberation Sans" font-size="6.2" fill="#2e2e2e" stroke="#2e2e2e" stroke-width="0.14">IR</text>
<text x="43.5" y="175.44" text-anchor="middle" font-family="Liberation Sans" font-size="6.2" fill="#2e2e2e" stroke="#2e2e2e" stroke-width="0.14" textLength="9.21" lengthAdjust="spacingAndGlyphs">251</text>
<text x="56.29" y="175.44" text-anchor="middle" font-family="Liberation Sans" font-size="6.2" fill="#2e2e2e" stroke="#2e2e2e" stroke-width="0.14" textLength="9.21" lengthAdjust="spacingAndGlyphs">240</text>
<text x="69.08" y="175.44" text-anchor="middle" font-family="Liberation Sans" font-size="6.2" fill="#2e2e2e" stroke="#2e2e2e" stroke-width="0.14" textLength="9.21" lengthAdjust="spacingAndGlyphs">219</text>
<text x="81.87" y="175.44" text-anchor="middle" font-family="Liberation Sans" font-size="6.2" fill="#2e2e2e" stroke="#2e2e2e" stroke-width="0.14" textLength="9.21" lengthAdjust="spacingAndGlyphs">196</text>
<text x="94.66" y="175.44" text-anchor="middle" font-family="Liberation Sans" font-size="6.2" fill="#2e2e2e" stroke="#2e2e2e" stroke-width="0.14" textLength="9.21" lengthAdjust="spacingAndGlyphs">179</text>
<text x="107.45" y="175.44" text-anchor="middle" font-family="Liberation Sans" font-size="6.2" fill="#2e2e2e" stroke="#2e2e2e" stroke-width="0.14" textLength="9.21" lengthAdjust="spacingAndGlyphs">163</text>
<text x="120.24" y="175.44" text-anchor="middle" font-family="Liberation Sans" font-size="6.2" fill="#2e2e2e" stroke="#2e2e2e" stroke-width="0.14" textLength="9.21" lengthAdjust="spacingAndGlyphs">138</text>
<text x="133.03" y="175.44" text-anchor="middle" font-family="Liberation Sans" font-size="6.2" fill="#2e2e2e" stroke="#2e2e2e" stroke-width="0.14" textLength="9.21" lengthAdjust="spacingAndGlyphs">105</text>
<text x="145.82" y="175.44" text-anchor="middle" font-family="Liberation Sans" font-size="6.2" fill="#2e2e2e" stroke="#2e2e2e" stroke-width="0.14" textLength="6.14" lengthAdjust="spacingAndGlyphs">90</text>
<text x="158.61" y="175.44" text-anchor="middle" font-family="Liberation Sans" font-size="6.2" fill="#2e2e2e" stroke="#2e2e2e" stroke-width="0.14" textLength="6.14" lengthAdjust="spacingAndGlyphs">69</text>
<text x="171.4" y="175.44" text-anchor="middle" font-family="Liberation Sans" font-size="6.2" fill="#2e2e2e" stroke="#2e2e2e" stroke-width="0.14" textLength="6.14" lengthAdjust="spacingAndGlyphs">51</text>
<text x="184.19" y="175.44" text-anchor="middle" font-family="Liberation Sans" font-size="6.2" fill="#2e2e2e" stroke="#2e2e2e" stroke-width="0.14" textLength="6.14" lengthAdjust="spacingAndGlyphs">30</text>
<text x="196.98" y="175.44" text-anchor="middle" font-family="Liberation Sans" font-size="6.2" fill="#2e2e2e" stroke="#2e2e2e" stroke-width="0.14" textLength="6.14" lengthAdjust="spacingAndGlyphs">15</text>
<text x="209.77" y="175.44" text-anchor="middle" font-family="Liberation Sans" font-size="6.2" fill="#2e2e2e" stroke="#2e2e2e" stroke-width="0.14" textLength="3.07" lengthAdjust="spacingAndGlyphs">5</text>
<text x="222.56" y="175.44" text-anchor="middle" font-family="Liberation Sans" font-size="6.2" fill="#2e2e2e" stroke="#2e2e2e" stroke-width="0.14" textLength="3.07" lengthAdjust="spacingAndGlyphs">2</text>
<text x="235.35" y="175.44" text-anchor="middle" font-family="Liberation Sans" font-size="6.2" fill="#2e2e2e" stroke="#2e2e2e" stroke-width="0.14" textLength="3.07" lengthAdjust="spacingAndGlyphs">1</text>
<text x="248.14" y="175.44" text-anchor="middle" font-family="Liberation Sans" font-size="6.2" fill="#2e2e2e" stroke="#2e2e2e" stroke-width="0.14" textLength="3.07" lengthAdjust="spacingAndGlyphs">0</text>
<text x="33.2" y="184.54" text-anchor="end" font-family="Liberation Sans" font-size="6.2" fill="#2e2e2e" stroke="#2e2e2e" stroke-width="0.14">HR</text>
<text x="43.5" y="184.54" text-anchor="middle" font-family="Liberation Sans" font-size="6.2" fill="#2e2e2e" stroke="#2e2e2e" stroke-width="0.14" textLength="9.21" lengthAdjust="spacingAndGlyphs">156</text>
<text x="56.29" y="184.54" text-anchor="middle" font-family="Liberation Sans" font-size="6.2" fill="#2e2e2e" stroke="#2e2e2e" stroke-width="0.14" textLength="9.21" lengthAdjust="spacingAndGlyphs">126</text>
<text x="69.08" y="184.54" text-anchor="middle" font-family="Liberation Sans" font-size="6.2" fill="#2e2e2e" stroke="#2e2e2e" stroke-width="0.14" textLength="9.21" lengthAdjust="spacingAndGlyphs">104</text>
<text x="81.87" y="184.54" text-anchor="middle" font-family="Liberation Sans" font-size="6.2" fill="#2e2e2e" stroke="#2e2e2e" stroke-width="0.14" textLength="6.14" lengthAdjust="spacingAndGlyphs">92</text>
<text x="94.66" y="184.54" text-anchor="middle" font-family="Liberation Sans" font-size="6.2" fill="#2e2e2e" stroke="#2e2e2e" stroke-width="0.14" textLength="6.14" lengthAdjust="spacingAndGlyphs">77</text>
<text x="107.45" y="184.54" text-anchor="middle" font-family="Liberation Sans" font-size="6.2" fill="#2e2e2e" stroke="#2e2e2e" stroke-width="0.14" textLength="6.14" lengthAdjust="spacingAndGlyphs">65</text>
<text x="120.24" y="184.54" text-anchor="middle" font-family="Liberation Sans" font-size="6.2" fill="#2e2e2e" stroke="#2e2e2e" stroke-width="0.14" textLength="6.14" lengthAdjust="spacingAndGlyphs">51</text>
<text x="133.03" y="184.54" text-anchor="middle" font-family="Liberation Sans" font-size="6.2" fill="#2e2e2e" stroke="#2e2e2e" stroke-width="0.14" textLength="6.14" lengthAdjust="spacingAndGlyphs">29</text>
<text x="145.82" y="184.54" text-anchor="middle" font-family="Liberation Sans" font-size="6.2" fill="#2e2e2e" stroke="#2e2e2e" stroke-width="0.14" textLength="6.14" lengthAdjust="spacingAndGlyphs">22</text>
<text x="158.61" y="184.54" text-anchor="middle" font-family="Liberation Sans" font-size="6.2" fill="#2e2e2e" stroke="#2e2e2e" stroke-width="0.14" textLength="6.14" lengthAdjust="spacingAndGlyphs">13</text>
<text x="171.4" y="184.54" text-anchor="middle" font-family="Liberation Sans" font-size="6.2" fill="#2e2e2e" stroke="#2e2e2e" stroke-width="0.14" textLength="3.07" lengthAdjust="spacingAndGlyphs">9</text>
<text x="184.19" y="184.54" text-anchor="middle" font-family="Liberation Sans" font-size="6.2" fill="#2e2e2e" stroke="#2e2e2e" stroke-width="0.14" textLength="3.07" lengthAdjust="spacingAndGlyphs">4</text>
<text x="196.98" y="184.54" text-anchor="middle" font-family="Liberation Sans" font-size="6.2" fill="#2e2e2e" stroke="#2e2e2e" stroke-width="0.14" textLength="3.07" lengthAdjust="spacingAndGlyphs">2</text>
<text x="209.77" y="184.54" text-anchor="middle" font-family="Liberation Sans" font-size="6.2" fill="#2e2e2e" stroke="#2e2e2e" stroke-width="0.14" textLength="3.07" lengthAdjust="spacingAndGlyphs">1</text>
<text x="222.56" y="184.54" text-anchor="middle" font-family="Liberation Sans" font-size="6.2" fill="#2e2e2e" stroke="#2e2e2e" stroke-width="0.14" textLength="3.07" lengthAdjust="spacingAndGlyphs">0</text>
<text x="235.35" y="184.54" text-anchor="middle" font-family="Liberation Sans" font-size="6.2" fill="#2e2e2e" stroke="#2e2e2e" stroke-width="0.14" textLength="3.07" lengthAdjust="spacingAndGlyphs">0</text>
<text x="248.14" y="184.54" text-anchor="middle" font-family="Liberation Sans" font-size="6.2" fill="#2e2e2e" stroke="#2e2e2e" stroke-width="0.14" textLength="3.07" lengthAdjust="spacingAndGlyphs">0</text>
<path d="M85.8 198.3H110" stroke="#34548e" stroke-width="1.2"/>
<path d="M128.9 198.3H152.8" stroke="#b3193f" stroke-width="1.2"/>
<path d="M170.8 198.3H194.8" stroke="#6cb043" stroke-width="1.2"/>
<text x="113" y="200.3" font-family="Liberation Sans" font-size="6.2" fill="#2e2e2e" stroke="#2e2e2e" stroke-width="0.14">LR</text>
<text x="156.2" y="200.3" font-family="Liberation Sans" font-size="6.2" fill="#2e2e2e" stroke="#2e2e2e" stroke-width="0.14">IR</text>
<text x="197.7" y="200.3" font-family="Liberation Sans" font-size="6.2" fill="#2e2e2e" stroke="#2e2e2e" stroke-width="0.14">HR</text>
</g>
<path d="M304.2 237.2 307.5 242.7 310.4 248.5 313.8 251.3 315.6 254.8 318.5 257.7 321.3 259.4 324.8 262.3 327.7 265.8 330 269.8 333.4 270.4 336.9 273.8 339.2 275 343.8 279.6 348.4 283.6 354.2 286.5 360 288.8 365.4 295 373.1 298.8 380.8 303.7 386.5 309.4 394.2 311.3 401.9 315.2 409.6 316.2 417.3 320.4 426.9 323.8 432.7 325.8 477.7 325.8" stroke="#6cb043" stroke-width="1.3" fill="none" stroke-linejoin="miter" stroke-miterlimit="3"/>
<path d="M304.2 237.2 309.2 239.2 313.8 241 318.5 242.1 324.2 244.4 327.1 247.9 333.4 251.3 335.8 253.6 340.4 256 346.1 258.8 350.8 261.1 355.4 264 360 266.9 364.6 268.5 370.4 272.6 376 276.4 381.5 279.2 386.7 282.8 394.4 286.2 403 289.2 413.5 293.1 421.5 296.9 430.8 300.8 440.4 303.1 444.6 304.7 449.2 306.5 452.3 310.8 473.1 310.8 473.1 318.1 477.7 318.1 477.7 324.2 499.7 324.2" stroke="#b3193f" stroke-width="1.3" fill="none" stroke-linejoin="miter" stroke-miterlimit="3"/>
<path d="M304.2 237.2 322.5 237.2 323.1 238.3 331.7 238.3 333.4 241 336.9 241.3 338.6 242.5 341.5 243.8 344.4 245.6 347.3 247.9 360 247.9 360.8 247.7 361.5 249.2 369.2 249.2 369.2 252.8 374.6 253.8 382.3 254.6 385.4 258.5 393.1 260.8 399.2 263.8 403.1 267.7 409.2 267.7 410.8 270 419.2 270 421.5 273.1 423.8 281.5 436.9 281.5 438.5 285.3 450 285.3 450 289.6 459.2 289.6 459.2 295 494.6 295" stroke="#34548e" stroke-width="1.3" fill="none" stroke-linejoin="miter" stroke-miterlimit="3"/>
<path d="M324.15 238v-1.7 M359.89 247.6v-1.7 M368.14 248.9v-1.7 M381.66 254.23v-1.7 M384.47 257.04v-1.7 M386.51 258.53v-1.7 M389.56 259.44v-1.7 M391.67 260.07v-1.7 M394.4 261.14v-1.7 M400.59 264.89v-1.7 M402.96 267.26v-1.7 M408.31 267.4v-1.7 M413.99 269.7v-1.7 M416.5 269.7v-1.7 M418.7 269.7v-1.7 M421.11 272.27v-1.7 M423.23 279.12v-1.7 M429.28 281.2v-1.7 M431.8 281.2v-1.7 M437.04 281.52v-1.7 M439.4 285v-1.7 M443.93 285v-1.7 M449.59 285v-1.7 M452.79 289.3v-1.7 M455.19 289.3v-1.7 M458.09 289.3v-1.7 M460.19 294.7v-1.7 M462.26 294.7v-1.7 M465.63 294.7v-1.7 M467.93 294.7v-1.7 M494.6 294.7v-1.7 M351.21 261.06v-1.7 M382.79 279.79v-1.7 M384.81 281.19v-1.7 M387.08 282.67v-1.7 M390.12 284.01v-1.7 M393.07 285.31v-1.7 M396.19 286.53v-1.7 M399.5 287.68v-1.7 M402.86 288.85v-1.7 M405.01 289.65v-1.7 M407.16 290.44v-1.7 M410.18 291.57v-1.7 M413.14 292.67v-1.7 M415.19 293.6v-1.7 M417.99 294.93v-1.7 M420.93 296.33v-1.7 M423.57 297.47v-1.7 M425.81 298.41v-1.7 M428.96 299.73v-1.7 M432.14 300.82v-1.7 M434.9 301.48v-1.7 M441.03 303.04v-1.7 M443.75 304.08v-1.7 M446.54 305.16v-1.7 M452.21 310.37v-1.7 M454.76 310.5v-1.7 M457.72 310.5v-1.7 M462.68 310.5v-1.7 M467.65 310.5v-1.7 M478.56 323.9v-1.7 M488.58 323.9v-1.7 M499.7 323.9v-1.7 M378.8 302.13v-1.7 M381.88 304.48v-1.7 M384.54 307.14v-1.7 M395.85 311.84v-1.7 M414.75 318.71v-1.7 M421.09 321.44v-1.7 M426.86 323.49v-1.7 M429.34 324.34v-1.7 M431.37 325.04v-1.7 M449.67 325.5v-1.7 M457.22 325.5v-1.7 M477.7 325.5v-1.7" stroke="#000" stroke-width="1.05" fill="none"/>
<g transform="translate(0,419.7)">
<text x="7.4" y="17.7" font-family="Liberation Sans" font-weight="bold" font-size="12" fill="#000" stroke="#000" stroke-width="0.45" textLength="8.2" lengthAdjust="spacingAndGlyphs">E</text>
<path d="M39.5 23.9V131.6M39.0 131.2H251.9" stroke="#000" stroke-width="1.1" fill="none"/>
<text x="33.0" y="29.95" text-anchor="end" font-family="Liberation Sans" font-size="7.2" fill="#2e2e2e" stroke="#2e2e2e" stroke-width="0.14" textLength="12.6" lengthAdjust="spacingAndGlyphs">1.00</text>
<text x="33.0" y="54.92" text-anchor="end" font-family="Liberation Sans" font-size="7.2" fill="#2e2e2e" stroke="#2e2e2e" stroke-width="0.14" textLength="12.6" lengthAdjust="spacingAndGlyphs">0.75</text>
<text x="33.0" y="79.89" text-anchor="end" font-family="Liberation Sans" font-size="7.2" fill="#2e2e2e" stroke="#2e2e2e" stroke-width="0.14" textLength="12.6" lengthAdjust="spacingAndGlyphs">0.50</text>
<text x="33.0" y="104.86" text-anchor="end" font-family="Liberation Sans" font-size="7.2" fill="#2e2e2e" stroke="#2e2e2e" stroke-width="0.14" textLength="12.6" lengthAdjust="spacingAndGlyphs">0.25</text>
<text x="33.0" y="129.83" text-anchor="end" font-family="Liberation Sans" font-size="7.2" fill="#2e2e2e" stroke="#2e2e2e" stroke-width="0.14" textLength="12.6" lengthAdjust="spacingAndGlyphs">0.00</text>
<text x="43.5" y="143.6" text-anchor="middle" font-family="Liberation Sans" font-size="8.1" fill="#2e2e2e" stroke="#2e2e2e" stroke-width="0.14" textLength="3.6" lengthAdjust="spacingAndGlyphs">0</text>
<text x="56.29" y="143.6" text-anchor="middle" font-family="Liberation Sans" font-size="8.1" fill="#2e2e2e" stroke="#2e2e2e" stroke-width="0.14" textLength="3.6" lengthAdjust="spacingAndGlyphs">1</text>
<text x="69.08" y="143.6" text-anchor="middle" font-family="Liberation Sans" font-size="8.1" fill="#2e2e2e" stroke="#2e2e2e" stroke-width="0.14" textLength="3.6" lengthAdjust="spacingAndGlyphs">2</text>
<text x="81.87" y="143.6" text-anchor="middle" font-family="Liberation Sans" font-size="8.1" fill="#2e2e2e" stroke="#2e2e2e" stroke-width="0.14" textLength="3.6" lengthAdjust="spacingAndGlyphs">3</text>
<text x="94.66" y="143.6" text-anchor="middle" font-family="Liberation Sans" font-size="8.1" fill="#2e2e2e" stroke="#2e2e2e" stroke-width="0.14" textLength="3.6" lengthAdjust="spacingAndGlyphs">4</text>
<text x="107.45" y="143.6" text-anchor="middle" font-family="Liberation Sans" font-size="8.1" fill="#2e2e2e" stroke="#2e2e2e" stroke-width="0.14" textLength="3.6" lengthAdjust="spacingAndGlyphs">5</text>
<text x="120.24" y="143.6" text-anchor="middle" font-family="Liberation Sans" font-size="8.1" fill="#2e2e2e" stroke="#2e2e2e" stroke-width="0.14" textLength="3.6" lengthAdjust="spacingAndGlyphs">6</text>
<text x="133.03" y="143.6" text-anchor="middle" font-family="Liberation Sans" font-size="8.1" fill="#2e2e2e" stroke="#2e2e2e" stroke-width="0.14" textLength="3.6" lengthAdjust="spacingAndGlyphs">7</text>
<text x="145.82" y="143.6" text-anchor="middle" font-family="Liberation Sans" font-size="8.1" fill="#2e2e2e" stroke="#2e2e2e" stroke-width="0.14" textLength="3.6" lengthAdjust="spacingAndGlyphs">8</text>
<text x="158.61" y="143.6" text-anchor="middle" font-family="Liberation Sans" font-size="8.1" fill="#2e2e2e" stroke="#2e2e2e" stroke-width="0.14" textLength="3.6" lengthAdjust="spacingAndGlyphs">9</text>
<text x="171.4" y="143.6" text-anchor="middle" font-family="Liberation Sans" font-size="8.1" fill="#2e2e2e" stroke="#2e2e2e" stroke-width="0.14" textLength="7.2" lengthAdjust="spacingAndGlyphs">10</text>
<text x="184.19" y="143.6" text-anchor="middle" font-family="Liberation Sans" font-size="8.1" fill="#2e2e2e" stroke="#2e2e2e" stroke-width="0.14" textLength="7.2" lengthAdjust="spacingAndGlyphs">11</text>
<text x="196.98" y="143.6" text-anchor="middle" font-family="Liberation Sans" font-size="8.1" fill="#2e2e2e" stroke="#2e2e2e" stroke-width="0.14" textLength="7.2" lengthAdjust="spacingAndGlyphs">12</text>
<text x="209.77" y="143.6" text-anchor="middle" font-family="Liberation Sans" font-size="8.1" fill="#2e2e2e" stroke="#2e2e2e" stroke-width="0.14" textLength="7.2" lengthAdjust="spacingAndGlyphs">13</text>
<text x="222.56" y="143.6" text-anchor="middle" font-family="Liberation Sans" font-size="8.1" fill="#2e2e2e" stroke="#2e2e2e" stroke-width="0.14" textLength="7.2" lengthAdjust="spacingAndGlyphs">14</text>
<text x="235.35" y="143.6" text-anchor="middle" font-family="Liberation Sans" font-size="8.1" fill="#2e2e2e" stroke="#2e2e2e" stroke-width="0.14" textLength="7.2" lengthAdjust="spacingAndGlyphs">15</text>
<text x="248.14" y="143.6" text-anchor="middle" font-family="Liberation Sans" font-size="8.1" fill="#2e2e2e" stroke="#2e2e2e" stroke-width="0.14" textLength="7.2" lengthAdjust="spacingAndGlyphs">16</text>
<path d="M36.1 27.5H39.5 M36.1 52.47H39.5 M36.1 77.44H39.5 M36.1 102.41H39.5 M36.1 127.38H39.5 M43.5 131.2V134.5 M56.29 131.2V134.5 M69.08 131.2V134.5 M81.87 131.2V134.5 M94.66 131.2V134.5 M107.45 131.2V134.5 M120.24 131.2V134.5 M133.03 131.2V134.5 M145.82 131.2V134.5 M158.61 131.2V134.5 M171.4 131.2V134.5 M184.19 131.2V134.5 M196.98 131.2V134.5 M209.77 131.2V134.5 M222.56 131.2V134.5 M235.35 131.2V134.5 M248.14 131.2V134.5" stroke="#000" stroke-width="1" fill="none"/>
<text x="121.3" y="155.6" font-family="Liberation Sans" font-size="9.1" fill="#1a1a1a" stroke="#1a1a1a" stroke-width="0.22" textLength="48.8" lengthAdjust="spacingAndGlyphs">Follow-up in years</text>
<text transform="translate(15.0,97.6) rotate(-90)" x="0" y="0" font-family="Liberation Sans" font-size="9.0" fill="#1a1a1a" stroke="#1a1a1a" stroke-width="0.22" textLength="39.6" lengthAdjust="spacingAndGlyphs">Overall survival</text>
<text x="172.0" y="33.9" font-family="Liberation Sans" font-size="5.9" fill="#222" stroke="#222" stroke-width="0.1" textLength="23.3" lengthAdjust="spacingAndGlyphs">P &lt; 0.001</text>
<text x="33.2" y="166.34" text-anchor="end" font-family="Liberation Sans" font-size="6.2" fill="#2e2e2e" stroke="#2e2e2e" stroke-width="0.14">LR</text>
<text x="43.5" y="166.34" text-anchor="middle" font-family="Liberation Sans" font-size="6.2" fill="#2e2e2e" stroke="#2e2e2e" stroke-width="0.14" textLength="6.14" lengthAdjust="spacingAndGlyphs">74</text>
<text x="56.29" y="166.34" text-anchor="middle" font-family="Liberation Sans" font-size="6.2" fill="#2e2e2e" stroke="#2e2e2e" stroke-width="0.14" textLength="6.14" lengthAdjust="spacingAndGlyphs">74</text>
<text x="69.08" y="166.34" text-anchor="middle" font-family="Liberation Sans" font-size="6.2" fill="#2e2e2e" stroke="#2e2e2e" stroke-width="0.14" textLength="6.14" lengthAdjust="spacingAndGlyphs">73</text>
<text x="81.87" y="166.34" text-anchor="middle" font-family="Liberation Sans" font-size="6.2" fill="#2e2e2e" stroke="#2e2e2e" stroke-width="0.14" textLength="6.14" lengthAdjust="spacingAndGlyphs">69</text>
<text x="94.66" y="166.34" text-anchor="middle" font-family="Liberation Sans" font-size="6.2" fill="#2e2e2e" stroke="#2e2e2e" stroke-width="0.14" textLength="6.14" lengthAdjust="spacingAndGlyphs">67</text>
<text x="107.45" y="166.34" text-anchor="middle" font-family="Liberation Sans" font-size="6.2" fill="#2e2e2e" stroke="#2e2e2e" stroke-width="0.14" textLength="6.14" lengthAdjust="spacingAndGlyphs">66</text>
<text x="120.24" y="166.34" text-anchor="middle" font-family="Liberation Sans" font-size="6.2" fill="#2e2e2e" stroke="#2e2e2e" stroke-width="0.14" textLength="6.14" lengthAdjust="spacingAndGlyphs">60</text>
<text x="133.03" y="166.34" text-anchor="middle" font-family="Liberation Sans" font-size="6.2" fill="#2e2e2e" stroke="#2e2e2e" stroke-width="0.14" textLength="6.14" lengthAdjust="spacingAndGlyphs">44</text>
<text x="145.82" y="166.34" text-anchor="middle" font-family="Liberation Sans" font-size="6.2" fill="#2e2e2e" stroke="#2e2e2e" stroke-width="0.14" textLength="6.14" lengthAdjust="spacingAndGlyphs">36</text>
<text x="158.61" y="166.34" text-anchor="middle" font-family="Liberation Sans" font-size="6.2" fill="#2e2e2e" stroke="#2e2e2e" stroke-width="0.14" textLength="6.14" lengthAdjust="spacingAndGlyphs">30</text>
<text x="171.4" y="166.34" text-anchor="middle" font-family="Liberation Sans" font-size="6.2" fill="#2e2e2e" stroke="#2e2e2e" stroke-width="0.14" textLength="6.14" lengthAdjust="spacingAndGlyphs">18</text>
<text x="184.19" y="166.34" text-anchor="middle" font-family="Liberation Sans" font-size="6.2" fill="#2e2e2e" stroke="#2e2e2e" stroke-width="0.14" textLength="6.14" lengthAdjust="spacingAndGlyphs">13</text>
<text x="196.98" y="166.34" text-anchor="middle" font-family="Liberation Sans" font-size="6.2" fill="#2e2e2e" stroke="#2e2e2e" stroke-width="0.14" textLength="6.14" lengthAdjust="spacingAndGlyphs">10</text>
<text x="209.77" y="166.34" text-anchor="middle" font-family="Liberation Sans" font-size="6.2" fill="#2e2e2e" stroke="#2e2e2e" stroke-width="0.14" textLength="3.07" lengthAdjust="spacingAndGlyphs">5</text>
<text x="222.56" y="166.34" text-anchor="middle" font-family="Liberation Sans" font-size="6.2" fill="#2e2e2e" stroke="#2e2e2e" stroke-width="0.14" textLength="3.07" lengthAdjust="spacingAndGlyphs">3</text>
<text x="235.35" y="166.34" text-anchor="middle" font-family="Liberation Sans" font-size="6.2" fill="#2e2e2e" stroke="#2e2e2e" stroke-width="0.14" textLength="3.07" lengthAdjust="spacingAndGlyphs">0</text>
<text x="248.14" y="166.34" text-anchor="middle" font-family="Liberation Sans" font-size="6.2" fill="#2e2e2e" stroke="#2e2e2e" stroke-width="0.14" textLength="3.07" lengthAdjust="spacingAndGlyphs">0</text>
<text x="33.2" y="175.44" text-anchor="end" font-family="Liberation Sans" font-size="6.2" fill="#2e2e2e" stroke="#2e2e2e" stroke-width="0.14">IR</text>
<text x="43.5" y="175.44" text-anchor="middle" font-family="Liberation Sans" font-size="6.2" fill="#2e2e2e" stroke="#2e2e2e" stroke-width="0.14" textLength="9.21" lengthAdjust="spacingAndGlyphs">229</text>
<text x="56.29" y="175.44" text-anchor="middle" font-family="Liberation Sans" font-size="6.2" fill="#2e2e2e" stroke="#2e2e2e" stroke-width="0.14" textLength="9.21" lengthAdjust="spacingAndGlyphs">222</text>
<text x="69.08" y="175.44" text-anchor="middle" font-family="Liberation Sans" font-size="6.2" fill="#2e2e2e" stroke="#2e2e2e" stroke-width="0.14" textLength="9.21" lengthAdjust="spacingAndGlyphs">204</text>
<text x="81.87" y="175.44" text-anchor="middle" font-family="Liberation Sans" font-size="6.2" fill="#2e2e2e" stroke="#2e2e2e" stroke-width="0.14" textLength="9.21" lengthAdjust="spacingAndGlyphs">184</text>
<text x="94.66" y="175.44" text-anchor="middle" font-family="Liberation Sans" font-size="6.2" fill="#2e2e2e" stroke="#2e2e2e" stroke-width="0.14" textLength="9.21" lengthAdjust="spacingAndGlyphs">170</text>
<text x="107.45" y="175.44" text-anchor="middle" font-family="Liberation Sans" font-size="6.2" fill="#2e2e2e" stroke="#2e2e2e" stroke-width="0.14" textLength="9.21" lengthAdjust="spacingAndGlyphs">156</text>
<text x="120.24" y="175.44" text-anchor="middle" font-family="Liberation Sans" font-size="6.2" fill="#2e2e2e" stroke="#2e2e2e" stroke-width="0.14" textLength="9.21" lengthAdjust="spacingAndGlyphs">131</text>
<text x="133.03" y="175.44" text-anchor="middle" font-family="Liberation Sans" font-size="6.2" fill="#2e2e2e" stroke="#2e2e2e" stroke-width="0.14" textLength="6.14" lengthAdjust="spacingAndGlyphs">98</text>
<text x="145.82" y="175.44" text-anchor="middle" font-family="Liberation Sans" font-size="6.2" fill="#2e2e2e" stroke="#2e2e2e" stroke-width="0.14" textLength="6.14" lengthAdjust="spacingAndGlyphs">83</text>
<text x="158.61" y="175.44" text-anchor="middle" font-family="Liberation Sans" font-size="6.2" fill="#2e2e2e" stroke="#2e2e2e" stroke-width="0.14" textLength="6.14" lengthAdjust="spacingAndGlyphs">64</text>
<text x="171.4" y="175.44" text-anchor="middle" font-family="Liberation Sans" font-size="6.2" fill="#2e2e2e" stroke="#2e2e2e" stroke-width="0.14" textLength="6.14" lengthAdjust="spacingAndGlyphs">47</text>
<text x="184.19" y="175.44" text-anchor="middle" font-family="Liberation Sans" font-size="6.2" fill="#2e2e2e" stroke="#2e2e2e" stroke-width="0.14" textLength="6.14" lengthAdjust="spacingAndGlyphs">26</text>
<text x="196.98" y="175.44" text-anchor="middle" font-family="Liberation Sans" font-size="6.2" fill="#2e2e2e" stroke="#2e2e2e" stroke-width="0.14" textLength="6.14" lengthAdjust="spacingAndGlyphs">14</text>
<text x="209.77" y="175.44" text-anchor="middle" font-family="Liberation Sans" font-size="6.2" fill="#2e2e2e" stroke="#2e2e2e" stroke-width="0.14" textLength="3.07" lengthAdjust="spacingAndGlyphs">4</text>
<text x="222.56" y="175.44" text-anchor="middle" font-family="Liberation Sans" font-size="6.2" fill="#2e2e2e" stroke="#2e2e2e" stroke-width="0.14" textLength="3.07" lengthAdjust="spacingAndGlyphs">1</text>
<text x="235.35" y="175.44" text-anchor="middle" font-family="Liberation Sans" font-size="6.2" fill="#2e2e2e" stroke="#2e2e2e" stroke-width="0.14" textLength="3.07" lengthAdjust="spacingAndGlyphs">0</text>
<text x="248.14" y="175.44" text-anchor="middle" font-family="Liberation Sans" font-size="6.2" fill="#2e2e2e" stroke="#2e2e2e" stroke-width="0.14" textLength="3.07" lengthAdjust="spacingAndGlyphs">0</text>
<text x="33.2" y="184.54" text-anchor="end" font-family="Liberation Sans" font-size="6.2" fill="#2e2e2e" stroke="#2e2e2e" stroke-width="0.14">HR</text>
<text x="43.5" y="184.54" text-anchor="middle" font-family="Liberation Sans" font-size="6.2" fill="#2e2e2e" stroke="#2e2e2e" stroke-width="0.14" textLength="9.21" lengthAdjust="spacingAndGlyphs">180</text>
<text x="56.29" y="184.54" text-anchor="middle" font-family="Liberation Sans" font-size="6.2" fill="#2e2e2e" stroke="#2e2e2e" stroke-width="0.14" textLength="9.21" lengthAdjust="spacingAndGlyphs">146</text>
<text x="69.08" y="184.54" text-anchor="middle" font-family="Liberation Sans" font-size="6.2" fill="#2e2e2e" stroke="#2e2e2e" stroke-width="0.14" textLength="9.21" lengthAdjust="spacingAndGlyphs">121</text>
<text x="81.87" y="184.54" text-anchor="middle" font-family="Liberation Sans" font-size="6.2" fill="#2e2e2e" stroke="#2e2e2e" stroke-width="0.14" textLength="9.21" lengthAdjust="spacingAndGlyphs">106</text>
<text x="94.66" y="184.54" text-anchor="middle" font-family="Liberation Sans" font-size="6.2" fill="#2e2e2e" stroke="#2e2e2e" stroke-width="0.14" textLength="6.14" lengthAdjust="spacingAndGlyphs">87</text>
<text x="107.45" y="184.54" text-anchor="middle" font-family="Liberation Sans" font-size="6.2" fill="#2e2e2e" stroke="#2e2e2e" stroke-width="0.14" textLength="6.14" lengthAdjust="spacingAndGlyphs">73</text>
<text x="120.24" y="184.54" text-anchor="middle" font-family="Liberation Sans" font-size="6.2" fill="#2e2e2e" stroke="#2e2e2e" stroke-width="0.14" textLength="6.14" lengthAdjust="spacingAndGlyphs">59</text>
<text x="133.03" y="184.54" text-anchor="middle" font-family="Liberation Sans" font-size="6.2" fill="#2e2e2e" stroke="#2e2e2e" stroke-width="0.14" textLength="6.14" lengthAdjust="spacingAndGlyphs">36</text>
<text x="145.82" y="184.54" text-anchor="middle" font-family="Liberation Sans" font-size="6.2" fill="#2e2e2e" stroke="#2e2e2e" stroke-width="0.14" textLength="6.14" lengthAdjust="spacingAndGlyphs">29</text>
<text x="158.61" y="184.54" text-anchor="middle" font-family="Liberation Sans" font-size="6.2" fill="#2e2e2e" stroke="#2e2e2e" stroke-width="0.14" textLength="6.14" lengthAdjust="spacingAndGlyphs">18</text>
<text x="171.4" y="184.54" text-anchor="middle" font-family="Liberation Sans" font-size="6.2" fill="#2e2e2e" stroke="#2e2e2e" stroke-width="0.14" textLength="6.14" lengthAdjust="spacingAndGlyphs">13</text>
<text x="184.19" y="184.54" text-anchor="middle" font-family="Liberation Sans" font-size="6.2" fill="#2e2e2e" stroke="#2e2e2e" stroke-width="0.14" textLength="3.07" lengthAdjust="spacingAndGlyphs">8</text>
<text x="196.98" y="184.54" text-anchor="middle" font-family="Liberation Sans" font-size="6.2" fill="#2e2e2e" stroke="#2e2e2e" stroke-width="0.14" textLength="3.07" lengthAdjust="spacingAndGlyphs">3</text>
<text x="209.77" y="184.54" text-anchor="middle" font-family="Liberation Sans" font-size="6.2" fill="#2e2e2e" stroke="#2e2e2e" stroke-width="0.14" textLength="3.07" lengthAdjust="spacingAndGlyphs">2</text>
<text x="222.56" y="184.54" text-anchor="middle" font-family="Liberation Sans" font-size="6.2" fill="#2e2e2e" stroke="#2e2e2e" stroke-width="0.14" textLength="3.07" lengthAdjust="spacingAndGlyphs">1</text>
<text x="235.35" y="184.54" text-anchor="middle" font-family="Liberation Sans" font-size="6.2" fill="#2e2e2e" stroke="#2e2e2e" stroke-width="0.14" textLength="3.07" lengthAdjust="spacingAndGlyphs">1</text>
<text x="248.14" y="184.54" text-anchor="middle" font-family="Liberation Sans" font-size="6.2" fill="#2e2e2e" stroke="#2e2e2e" stroke-width="0.14" textLength="3.07" lengthAdjust="spacingAndGlyphs">0</text>
<path d="M85.8 198.3H110" stroke="#34548e" stroke-width="1.2"/>
<path d="M128.9 198.3H152.8" stroke="#b3193f" stroke-width="1.2"/>
<path d="M170.8 198.3H194.8" stroke="#6cb043" stroke-width="1.2"/>
<text x="113" y="200.3" font-family="Liberation Sans" font-size="6.2" fill="#2e2e2e" stroke="#2e2e2e" stroke-width="0.14">LR</text>
<text x="156.2" y="200.3" font-family="Liberation Sans" font-size="6.2" fill="#2e2e2e" stroke="#2e2e2e" stroke-width="0.14">IR</text>
<text x="197.7" y="200.3" font-family="Liberation Sans" font-size="6.2" fill="#2e2e2e" stroke="#2e2e2e" stroke-width="0.14">HR</text>
</g>
<path d="M43.5 447.2 46.9 452.7 49.2 457.3 52.7 460.2 54.4 462.5 56.1 466 59.6 468.3 61.9 469.4 64.2 472.3 66.5 475.8 68.8 479.2 71.7 480.4 74.6 482.1 78.1 484.4 82.7 488.4 87.3 492.5 93.1 496.5 100 500 105.4 505 115 509.8 122.7 514.2 127.5 518.5 136.2 520.8 143.8 523.8 151.5 526.2 159.2 529 166.9 531.5 176.5 532.3 180 532.7 184.6 534.7 239.2 534.7" stroke="#6cb043" stroke-width="1.3" fill="none" stroke-linejoin="miter" stroke-miterlimit="3"/>
<path d="M43.5 447.2 48.1 448.7 53.8 449.8 58.5 451.5 63.1 453.3 66.5 456.7 72.3 460.2 74.6 462.5 80.4 464.8 86.1 467.7 91.9 470.6 96.5 472.9 100 474 104.6 476.2 110.4 480.4 116.5 485.1 122.3 487.3 125.4 490 132.7 493.6 141.5 497 151.5 501.2 161.7 506.1 170.8 510.8 180.4 512.7 186.2 514.2 190 515.8 192.3 520.4 212.6 520.4 212.6 529.2 216.9 529.2 216.9 538.1 233.1 538.1" stroke="#b3193f" stroke-width="1.3" fill="none" stroke-linejoin="miter" stroke-miterlimit="3"/>
<path d="M43.5 447.2 61.3 447.2 62.5 448.3 71.1 448.3 73.4 451.3 76.9 451.3 78.6 452.5 81.5 453.8 85 456.1 86.7 456.7 98.8 456.7 99.4 457.9 100.8 457.7 108.5 457.7 108.5 461.5 113.8 462.3 115.4 463.1 120.8 463.8 124.6 467.7 133.1 467.7 136.2 470.8 139.2 471.5 142.3 475.4 148.5 475.4 150 477.7 156.9 477.7 160.8 481.5 163.1 490.3 176.9 490.3 176.9 493.6 190 493.6 190 498.1 199.2 498.1 199.2 503.5 233.8 503.5" stroke="#34548e" stroke-width="1.3" fill="none" stroke-linejoin="miter" stroke-miterlimit="3"/>
<path d="M70.46 448v-1.7 M115.86 462.86v-1.7 M119.19 463.29v-1.7 M125.05 467.4v-1.7 M130.34 467.4v-1.7 M132.42 467.4v-1.7 M137.74 470.86v-1.7 M141.12 473.61v-1.7 M143.22 475.1v-1.7 M145.93 475.1v-1.7 M148.18 475.1v-1.7 M162.43 487.44v-1.7 M164.76 490v-1.7 M167.51 490v-1.7 M172.75 490v-1.7 M175.98 490v-1.7 M178.45 493.3v-1.7 M187.17 493.3v-1.7 M193.76 497.8v-1.7 M196.78 497.8v-1.7 M200.13 503.2v-1.7 M206.07 503.2v-1.7 M208.63 503.2v-1.7 M221.72 503.2v-1.7 M233.8 503.2v-1.7 M63.68 453.58v-1.7 M115.91 484.35v-1.7 M118.96 485.73v-1.7 M121.78 486.8v-1.7 M124.22 488.67v-1.7 M127.5 490.74v-1.7 M130.84 492.38v-1.7 M133.2 493.49v-1.7 M136.34 494.71v-1.7 M139.31 495.85v-1.7 M145.08 498.2v-1.7 M147.45 499.2v-1.7 M149.46 500.04v-1.7 M151.57 500.93v-1.7 M154.71 502.44v-1.7 M157.86 503.95v-1.7 M160.73 505.33v-1.7 M163.72 506.84v-1.7 M166.62 508.34v-1.7 M168.81 509.47v-1.7 M171.27 510.59v-1.7 M174.18 511.17v-1.7 M176.26 511.58v-1.7 M179.4 512.2v-1.7 M182.33 512.9v-1.7 M184.63 513.49v-1.7 M187.21 514.32v-1.7 M189.84 515.43v-1.7 M192.58 520.1v-1.7 M194.96 520.1v-1.7 M197.43 520.1v-1.7 M233.1 537.8v-1.7 M74.95 482.03v-1.7 M115.35 509.7v-1.7 M117.75 511.07v-1.7 M130.23 518.92v-1.7 M137.46 521v-1.7 M140.7 522.28v-1.7 M143.71 523.46v-1.7 M146.6 524.37v-1.7 M149.09 525.15v-1.7 M151.48 525.89v-1.7 M156.16 527.59v-1.7 M160.89 529.25v-1.7 M163.1 529.97v-1.7 M166.48 531.06v-1.7 M169.38 531.41v-1.7 M174.84 531.86v-1.7 M177.63 532.13v-1.7 M191.03 534.4v-1.7 M196.66 534.4v-1.7 M207.94 534.4v-1.7 M213.33 534.4v-1.7 M227.37 534.4v-1.7 M230.5 534.4v-1.7 M236.41 534.4v-1.7 M239.2 534.4v-1.7" stroke="#000" stroke-width="1.05" fill="none"/>
<g transform="translate(260.7,419.7)">
<text x="7.4" y="17.7" font-family="Liberation Sans" font-weight="bold" font-size="12" fill="#000" stroke="#000" stroke-width="0.45" textLength="8.2" lengthAdjust="spacingAndGlyphs">F</text>
<path d="M39.5 23.9V131.6M39.0 131.2H251.9" stroke="#000" stroke-width="1.1" fill="none"/>
<text x="33.0" y="29.95" text-anchor="end" font-family="Liberation Sans" font-size="7.2" fill="#2e2e2e" stroke="#2e2e2e" stroke-width="0.14" textLength="12.6" lengthAdjust="spacingAndGlyphs">1.00</text>
<text x="33.0" y="54.92" text-anchor="end" font-family="Liberation Sans" font-size="7.2" fill="#2e2e2e" stroke="#2e2e2e" stroke-width="0.14" textLength="12.6" lengthAdjust="spacingAndGlyphs">0.75</text>
<text x="33.0" y="79.89" text-anchor="end" font-family="Liberation Sans" font-size="7.2" fill="#2e2e2e" stroke="#2e2e2e" stroke-width="0.14" textLength="12.6" lengthAdjust="spacingAndGlyphs">0.50</text>
<text x="33.0" y="104.86" text-anchor="end" font-family="Liberation Sans" font-size="7.2" fill="#2e2e2e" stroke="#2e2e2e" stroke-width="0.14" textLength="12.6" lengthAdjust="spacingAndGlyphs">0.25</text>
<text x="33.0" y="129.83" text-anchor="end" font-family="Liberation Sans" font-size="7.2" fill="#2e2e2e" stroke="#2e2e2e" stroke-width="0.14" textLength="12.6" lengthAdjust="spacingAndGlyphs">0.00</text>
<text x="43.5" y="143.6" text-anchor="middle" font-family="Liberation Sans" font-size="8.1" fill="#2e2e2e" stroke="#2e2e2e" stroke-width="0.14" textLength="3.6" lengthAdjust="spacingAndGlyphs">0</text>
<text x="56.29" y="143.6" text-anchor="middle" font-family="Liberation Sans" font-size="8.1" fill="#2e2e2e" stroke="#2e2e2e" stroke-width="0.14" textLength="3.6" lengthAdjust="spacingAndGlyphs">1</text>
<text x="69.08" y="143.6" text-anchor="middle" font-family="Liberation Sans" font-size="8.1" fill="#2e2e2e" stroke="#2e2e2e" stroke-width="0.14" textLength="3.6" lengthAdjust="spacingAndGlyphs">2</text>
<text x="81.87" y="143.6" text-anchor="middle" font-family="Liberation Sans" font-size="8.1" fill="#2e2e2e" stroke="#2e2e2e" stroke-width="0.14" textLength="3.6" lengthAdjust="spacingAndGlyphs">3</text>
<text x="94.66" y="143.6" text-anchor="middle" font-family="Liberation Sans" font-size="8.1" fill="#2e2e2e" stroke="#2e2e2e" stroke-width="0.14" textLength="3.6" lengthAdjust="spacingAndGlyphs">4</text>
<text x="107.45" y="143.6" text-anchor="middle" font-family="Liberation Sans" font-size="8.1" fill="#2e2e2e" stroke="#2e2e2e" stroke-width="0.14" textLength="3.6" lengthAdjust="spacingAndGlyphs">5</text>
<text x="120.24" y="143.6" text-anchor="middle" font-family="Liberation Sans" font-size="8.1" fill="#2e2e2e" stroke="#2e2e2e" stroke-width="0.14" textLength="3.6" lengthAdjust="spacingAndGlyphs">6</text>
<text x="133.03" y="143.6" text-anchor="middle" font-family="Liberation Sans" font-size="8.1" fill="#2e2e2e" stroke="#2e2e2e" stroke-width="0.14" textLength="3.6" lengthAdjust="spacingAndGlyphs">7</text>
<text x="145.82" y="143.6" text-anchor="middle" font-family="Liberation Sans" font-size="8.1" fill="#2e2e2e" stroke="#2e2e2e" stroke-width="0.14" textLength="3.6" lengthAdjust="spacingAndGlyphs">8</text>
<text x="158.61" y="143.6" text-anchor="middle" font-family="Liberation Sans" font-size="8.1" fill="#2e2e2e" stroke="#2e2e2e" stroke-width="0.14" textLength="3.6" lengthAdjust="spacingAndGlyphs">9</text>
<text x="171.4" y="143.6" text-anchor="middle" font-family="Liberation Sans" font-size="8.1" fill="#2e2e2e" stroke="#2e2e2e" stroke-width="0.14" textLength="7.2" lengthAdjust="spacingAndGlyphs">10</text>
<text x="184.19" y="143.6" text-anchor="middle" font-family="Liberation Sans" font-size="8.1" fill="#2e2e2e" stroke="#2e2e2e" stroke-width="0.14" textLength="7.2" lengthAdjust="spacingAndGlyphs">11</text>
<text x="196.98" y="143.6" text-anchor="middle" font-family="Liberation Sans" font-size="8.1" fill="#2e2e2e" stroke="#2e2e2e" stroke-width="0.14" textLength="7.2" lengthAdjust="spacingAndGlyphs">12</text>
<text x="209.77" y="143.6" text-anchor="middle" font-family="Liberation Sans" font-size="8.1" fill="#2e2e2e" stroke="#2e2e2e" stroke-width="0.14" textLength="7.2" lengthAdjust="spacingAndGlyphs">13</text>
<text x="222.56" y="143.6" text-anchor="middle" font-family="Liberation Sans" font-size="8.1" fill="#2e2e2e" stroke="#2e2e2e" stroke-width="0.14" textLength="7.2" lengthAdjust="spacingAndGlyphs">14</text>
<text x="235.35" y="143.6" text-anchor="middle" font-family="Liberation Sans" font-size="8.1" fill="#2e2e2e" stroke="#2e2e2e" stroke-width="0.14" textLength="7.2" lengthAdjust="spacingAndGlyphs">15</text>
<text x="248.14" y="143.6" text-anchor="middle" font-family="Liberation Sans" font-size="8.1" fill="#2e2e2e" stroke="#2e2e2e" stroke-width="0.14" textLength="7.2" lengthAdjust="spacingAndGlyphs">16</text>
<path d="M36.1 27.5H39.5 M36.1 52.47H39.5 M36.1 77.44H39.5 M36.1 102.41H39.5 M36.1 127.38H39.5 M43.5 131.2V134.5 M56.29 131.2V134.5 M69.08 131.2V134.5 M81.87 131.2V134.5 M94.66 131.2V134.5 M107.45 131.2V134.5 M120.24 131.2V134.5 M133.03 131.2V134.5 M145.82 131.2V134.5 M158.61 131.2V134.5 M171.4 131.2V134.5 M184.19 131.2V134.5 M196.98 131.2V134.5 M209.77 131.2V134.5 M222.56 131.2V134.5 M235.35 131.2V134.5 M248.14 131.2V134.5" stroke="#000" stroke-width="1" fill="none"/>
<text x="121.3" y="155.6" font-family="Liberation Sans" font-size="9.1" fill="#1a1a1a" stroke="#1a1a1a" stroke-width="0.22" textLength="48.8" lengthAdjust="spacingAndGlyphs">Follow-up in years</text>
<text transform="translate(15.0,97.6) rotate(-90)" x="0" y="0" font-family="Liberation Sans" font-size="9.0" fill="#1a1a1a" stroke="#1a1a1a" stroke-width="0.22" textLength="39.6" lengthAdjust="spacingAndGlyphs">Overall survival</text>
<text x="172.0" y="33.9" font-family="Liberation Sans" font-size="5.9" fill="#222" stroke="#222" stroke-width="0.1" textLength="23.3" lengthAdjust="spacingAndGlyphs">P &lt; 0.001</text>
<text x="33.2" y="166.34" text-anchor="end" font-family="Liberation Sans" font-size="6.2" fill="#2e2e2e" stroke="#2e2e2e" stroke-width="0.14">LR</text>
<text x="43.5" y="166.34" text-anchor="middle" font-family="Liberation Sans" font-size="6.2" fill="#2e2e2e" stroke="#2e2e2e" stroke-width="0.14" textLength="6.14" lengthAdjust="spacingAndGlyphs">70</text>
<text x="56.29" y="166.34" text-anchor="middle" font-family="Liberation Sans" font-size="6.2" fill="#2e2e2e" stroke="#2e2e2e" stroke-width="0.14" textLength="6.14" lengthAdjust="spacingAndGlyphs">70</text>
<text x="69.08" y="166.34" text-anchor="middle" font-family="Liberation Sans" font-size="6.2" fill="#2e2e2e" stroke="#2e2e2e" stroke-width="0.14" textLength="6.14" lengthAdjust="spacingAndGlyphs">69</text>
<text x="81.87" y="166.34" text-anchor="middle" font-family="Liberation Sans" font-size="6.2" fill="#2e2e2e" stroke="#2e2e2e" stroke-width="0.14" textLength="6.14" lengthAdjust="spacingAndGlyphs">67</text>
<text x="94.66" y="166.34" text-anchor="middle" font-family="Liberation Sans" font-size="6.2" fill="#2e2e2e" stroke="#2e2e2e" stroke-width="0.14" textLength="6.14" lengthAdjust="spacingAndGlyphs">65</text>
<text x="107.45" y="166.34" text-anchor="middle" font-family="Liberation Sans" font-size="6.2" fill="#2e2e2e" stroke="#2e2e2e" stroke-width="0.14" textLength="6.14" lengthAdjust="spacingAndGlyphs">64</text>
<text x="120.24" y="166.34" text-anchor="middle" font-family="Liberation Sans" font-size="6.2" fill="#2e2e2e" stroke="#2e2e2e" stroke-width="0.14" textLength="6.14" lengthAdjust="spacingAndGlyphs">58</text>
<text x="133.03" y="166.34" text-anchor="middle" font-family="Liberation Sans" font-size="6.2" fill="#2e2e2e" stroke="#2e2e2e" stroke-width="0.14" textLength="6.14" lengthAdjust="spacingAndGlyphs">42</text>
<text x="145.82" y="166.34" text-anchor="middle" font-family="Liberation Sans" font-size="6.2" fill="#2e2e2e" stroke="#2e2e2e" stroke-width="0.14" textLength="6.14" lengthAdjust="spacingAndGlyphs">35</text>
<text x="158.61" y="166.34" text-anchor="middle" font-family="Liberation Sans" font-size="6.2" fill="#2e2e2e" stroke="#2e2e2e" stroke-width="0.14" textLength="6.14" lengthAdjust="spacingAndGlyphs">29</text>
<text x="171.4" y="166.34" text-anchor="middle" font-family="Liberation Sans" font-size="6.2" fill="#2e2e2e" stroke="#2e2e2e" stroke-width="0.14" textLength="6.14" lengthAdjust="spacingAndGlyphs">18</text>
<text x="184.19" y="166.34" text-anchor="middle" font-family="Liberation Sans" font-size="6.2" fill="#2e2e2e" stroke="#2e2e2e" stroke-width="0.14" textLength="6.14" lengthAdjust="spacingAndGlyphs">13</text>
<text x="196.98" y="166.34" text-anchor="middle" font-family="Liberation Sans" font-size="6.2" fill="#2e2e2e" stroke="#2e2e2e" stroke-width="0.14" textLength="6.14" lengthAdjust="spacingAndGlyphs">10</text>
<text x="209.77" y="166.34" text-anchor="middle" font-family="Liberation Sans" font-size="6.2" fill="#2e2e2e" stroke="#2e2e2e" stroke-width="0.14" textLength="3.07" lengthAdjust="spacingAndGlyphs">5</text>
<text x="222.56" y="166.34" text-anchor="middle" font-family="Liberation Sans" font-size="6.2" fill="#2e2e2e" stroke="#2e2e2e" stroke-width="0.14" textLength="3.07" lengthAdjust="spacingAndGlyphs">3</text>
<text x="235.35" y="166.34" text-anchor="middle" font-family="Liberation Sans" font-size="6.2" fill="#2e2e2e" stroke="#2e2e2e" stroke-width="0.14" textLength="3.07" lengthAdjust="spacingAndGlyphs">0</text>
<text x="248.14" y="166.34" text-anchor="middle" font-family="Liberation Sans" font-size="6.2" fill="#2e2e2e" stroke="#2e2e2e" stroke-width="0.14" textLength="3.07" lengthAdjust="spacingAndGlyphs">0</text>
<text x="33.2" y="175.44" text-anchor="end" font-family="Liberation Sans" font-size="6.2" fill="#2e2e2e" stroke="#2e2e2e" stroke-width="0.14">IR</text>
<text x="43.5" y="175.44" text-anchor="middle" font-family="Liberation Sans" font-size="6.2" fill="#2e2e2e" stroke="#2e2e2e" stroke-width="0.14" textLength="9.21" lengthAdjust="spacingAndGlyphs">261</text>
<text x="56.29" y="175.44" text-anchor="middle" font-family="Liberation Sans" font-size="6.2" fill="#2e2e2e" stroke="#2e2e2e" stroke-width="0.14" textLength="9.21" lengthAdjust="spacingAndGlyphs">249</text>
<text x="69.08" y="175.44" text-anchor="middle" font-family="Liberation Sans" font-size="6.2" fill="#2e2e2e" stroke="#2e2e2e" stroke-width="0.14" textLength="9.21" lengthAdjust="spacingAndGlyphs">226</text>
<text x="81.87" y="175.44" text-anchor="middle" font-family="Liberation Sans" font-size="6.2" fill="#2e2e2e" stroke="#2e2e2e" stroke-width="0.14" textLength="9.21" lengthAdjust="spacingAndGlyphs">200</text>
<text x="94.66" y="175.44" text-anchor="middle" font-family="Liberation Sans" font-size="6.2" fill="#2e2e2e" stroke="#2e2e2e" stroke-width="0.14" textLength="9.21" lengthAdjust="spacingAndGlyphs">182</text>
<text x="107.45" y="175.44" text-anchor="middle" font-family="Liberation Sans" font-size="6.2" fill="#2e2e2e" stroke="#2e2e2e" stroke-width="0.14" textLength="9.21" lengthAdjust="spacingAndGlyphs">167</text>
<text x="120.24" y="175.44" text-anchor="middle" font-family="Liberation Sans" font-size="6.2" fill="#2e2e2e" stroke="#2e2e2e" stroke-width="0.14" textLength="9.21" lengthAdjust="spacingAndGlyphs">141</text>
<text x="133.03" y="175.44" text-anchor="middle" font-family="Liberation Sans" font-size="6.2" fill="#2e2e2e" stroke="#2e2e2e" stroke-width="0.14" textLength="9.21" lengthAdjust="spacingAndGlyphs">105</text>
<text x="145.82" y="175.44" text-anchor="middle" font-family="Liberation Sans" font-size="6.2" fill="#2e2e2e" stroke="#2e2e2e" stroke-width="0.14" textLength="6.14" lengthAdjust="spacingAndGlyphs">88</text>
<text x="158.61" y="175.44" text-anchor="middle" font-family="Liberation Sans" font-size="6.2" fill="#2e2e2e" stroke="#2e2e2e" stroke-width="0.14" textLength="6.14" lengthAdjust="spacingAndGlyphs">68</text>
<text x="171.4" y="175.44" text-anchor="middle" font-family="Liberation Sans" font-size="6.2" fill="#2e2e2e" stroke="#2e2e2e" stroke-width="0.14" textLength="6.14" lengthAdjust="spacingAndGlyphs">49</text>
<text x="184.19" y="175.44" text-anchor="middle" font-family="Liberation Sans" font-size="6.2" fill="#2e2e2e" stroke="#2e2e2e" stroke-width="0.14" textLength="6.14" lengthAdjust="spacingAndGlyphs">28</text>
<text x="196.98" y="175.44" text-anchor="middle" font-family="Liberation Sans" font-size="6.2" fill="#2e2e2e" stroke="#2e2e2e" stroke-width="0.14" textLength="6.14" lengthAdjust="spacingAndGlyphs">15</text>
<text x="209.77" y="175.44" text-anchor="middle" font-family="Liberation Sans" font-size="6.2" fill="#2e2e2e" stroke="#2e2e2e" stroke-width="0.14" textLength="3.07" lengthAdjust="spacingAndGlyphs">5</text>
<text x="222.56" y="175.44" text-anchor="middle" font-family="Liberation Sans" font-size="6.2" fill="#2e2e2e" stroke="#2e2e2e" stroke-width="0.14" textLength="3.07" lengthAdjust="spacingAndGlyphs">2</text>
<text x="235.35" y="175.44" text-anchor="middle" font-family="Liberation Sans" font-size="6.2" fill="#2e2e2e" stroke="#2e2e2e" stroke-width="0.14" textLength="3.07" lengthAdjust="spacingAndGlyphs">1</text>
<text x="248.14" y="175.44" text-anchor="middle" font-family="Liberation Sans" font-size="6.2" fill="#2e2e2e" stroke="#2e2e2e" stroke-width="0.14" textLength="3.07" lengthAdjust="spacingAndGlyphs">0</text>
<text x="33.2" y="184.54" text-anchor="end" font-family="Liberation Sans" font-size="6.2" fill="#2e2e2e" stroke="#2e2e2e" stroke-width="0.14">HR</text>
<text x="43.5" y="184.54" text-anchor="middle" font-family="Liberation Sans" font-size="6.2" fill="#2e2e2e" stroke="#2e2e2e" stroke-width="0.14" textLength="9.21" lengthAdjust="spacingAndGlyphs">152</text>
<text x="56.29" y="184.54" text-anchor="middle" font-family="Liberation Sans" font-size="6.2" fill="#2e2e2e" stroke="#2e2e2e" stroke-width="0.14" textLength="9.21" lengthAdjust="spacingAndGlyphs">123</text>
<text x="69.08" y="184.54" text-anchor="middle" font-family="Liberation Sans" font-size="6.2" fill="#2e2e2e" stroke="#2e2e2e" stroke-width="0.14" textLength="9.21" lengthAdjust="spacingAndGlyphs">103</text>
<text x="81.87" y="184.54" text-anchor="middle" font-family="Liberation Sans" font-size="6.2" fill="#2e2e2e" stroke="#2e2e2e" stroke-width="0.14" textLength="6.14" lengthAdjust="spacingAndGlyphs">92</text>
<text x="94.66" y="184.54" text-anchor="middle" font-family="Liberation Sans" font-size="6.2" fill="#2e2e2e" stroke="#2e2e2e" stroke-width="0.14" textLength="6.14" lengthAdjust="spacingAndGlyphs">77</text>
<text x="107.45" y="184.54" text-anchor="middle" font-family="Liberation Sans" font-size="6.2" fill="#2e2e2e" stroke="#2e2e2e" stroke-width="0.14" textLength="6.14" lengthAdjust="spacingAndGlyphs">64</text>
<text x="120.24" y="184.54" text-anchor="middle" font-family="Liberation Sans" font-size="6.2" fill="#2e2e2e" stroke="#2e2e2e" stroke-width="0.14" textLength="6.14" lengthAdjust="spacingAndGlyphs">51</text>
<text x="133.03" y="184.54" text-anchor="middle" font-family="Liberation Sans" font-size="6.2" fill="#2e2e2e" stroke="#2e2e2e" stroke-width="0.14" textLength="6.14" lengthAdjust="spacingAndGlyphs">31</text>
<text x="145.82" y="184.54" text-anchor="middle" font-family="Liberation Sans" font-size="6.2" fill="#2e2e2e" stroke="#2e2e2e" stroke-width="0.14" textLength="6.14" lengthAdjust="spacingAndGlyphs">25</text>
<text x="158.61" y="184.54" text-anchor="middle" font-family="Liberation Sans" font-size="6.2" fill="#2e2e2e" stroke="#2e2e2e" stroke-width="0.14" textLength="6.14" lengthAdjust="spacingAndGlyphs">15</text>
<text x="171.4" y="184.54" text-anchor="middle" font-family="Liberation Sans" font-size="6.2" fill="#2e2e2e" stroke="#2e2e2e" stroke-width="0.14" textLength="6.14" lengthAdjust="spacingAndGlyphs">11</text>
<text x="184.19" y="184.54" text-anchor="middle" font-family="Liberation Sans" font-size="6.2" fill="#2e2e2e" stroke="#2e2e2e" stroke-width="0.14" textLength="3.07" lengthAdjust="spacingAndGlyphs">6</text>
<text x="196.98" y="184.54" text-anchor="middle" font-family="Liberation Sans" font-size="6.2" fill="#2e2e2e" stroke="#2e2e2e" stroke-width="0.14" textLength="3.07" lengthAdjust="spacingAndGlyphs">2</text>
<text x="209.77" y="184.54" text-anchor="middle" font-family="Liberation Sans" font-size="6.2" fill="#2e2e2e" stroke="#2e2e2e" stroke-width="0.14" textLength="3.07" lengthAdjust="spacingAndGlyphs">1</text>
<text x="222.56" y="184.54" text-anchor="middle" font-family="Liberation Sans" font-size="6.2" fill="#2e2e2e" stroke="#2e2e2e" stroke-width="0.14" textLength="3.07" lengthAdjust="spacingAndGlyphs">0</text>
<text x="235.35" y="184.54" text-anchor="middle" font-family="Liberation Sans" font-size="6.2" fill="#2e2e2e" stroke="#2e2e2e" stroke-width="0.14" textLength="3.07" lengthAdjust="spacingAndGlyphs">0</text>
<text x="248.14" y="184.54" text-anchor="middle" font-family="Liberation Sans" font-size="6.2" fill="#2e2e2e" stroke="#2e2e2e" stroke-width="0.14" textLength="3.07" lengthAdjust="spacingAndGlyphs">0</text>
<path d="M85.8 198.3H110" stroke="#34548e" stroke-width="1.2"/>
<path d="M128.9 198.3H152.8" stroke="#b3193f" stroke-width="1.2"/>
<path d="M170.8 198.3H194.8" stroke="#6cb043" stroke-width="1.2"/>
<text x="113" y="200.3" font-family="Liberation Sans" font-size="6.2" fill="#2e2e2e" stroke="#2e2e2e" stroke-width="0.14">LR</text>
<text x="156.2" y="200.3" font-family="Liberation Sans" font-size="6.2" fill="#2e2e2e" stroke="#2e2e2e" stroke-width="0.14">IR</text>
<text x="197.7" y="200.3" font-family="Liberation Sans" font-size="6.2" fill="#2e2e2e" stroke="#2e2e2e" stroke-width="0.14">HR</text>
</g>
<path d="M304.2 447.2 307.5 453.3 311 459 314.4 461.3 316.1 466 318.5 467.7 321.3 468.3 324.8 471.1 327.7 475.2 330 478.6 333.4 479.2 336.9 482.7 339.8 483.8 343.8 487.9 348.4 492.5 354.2 495.9 360 498.2 367.3 505 375 508.8 382.7 513.7 387.5 518.5 396.2 520.4 403.8 523.8 411.5 526.2 419.2 529 426.9 532.3 432.7 533.6 477.7 533.6" stroke="#6cb043" stroke-width="1.3" fill="none" stroke-linejoin="miter" stroke-miterlimit="3"/>
<path d="M304.2 447.2 309.2 449.2 316.1 451.5 321.9 453.8 324.8 455.6 327.7 459 333.4 462.5 335.8 464.8 340.4 467.1 346.1 470.6 350.8 472.9 354.2 475.2 360 478.1 364.6 478.5 370.4 483.3 376.6 488.5 382.3 490.7 386.9 494.8 394.6 498.5 402.3 500.8 407.7 502.1 417.3 506.9 426.9 510.8 432.7 513.7 442.3 515.2 449.2 518.1 452.3 522.7 473.1 522.9 473.1 528.8 477.7 528.8 477.7 535 499.7 535" stroke="#b3193f" stroke-width="1.3" fill="none" stroke-linejoin="miter" stroke-miterlimit="3"/>
<path d="M304.2 447.2 321.9 447.2 323.1 448.3 333.4 448.3 334.6 449.8 338.1 450.2 339.8 451.3 344.4 451.3 347.3 454.1 360 454.1 360.8 454.2 362.3 455.4 369.2 455.4 369.2 459.4 374.6 460.6 382.3 461.5 385.4 466 393.8 466.2 395.4 468.2 401.5 468.2 403.1 472.3 410 472.3 410 474.6 418.5 474.6 420.8 477.7 423.1 483.1 424.6 485.4 436.9 485.4 436.9 489.2 450 489.2 450 494.2 459.2 494.2 459.2 499.9 494.6 499.9" stroke="#34548e" stroke-width="1.3" fill="none" stroke-linejoin="miter" stroke-miterlimit="3"/>
<path d="M331.33 448v-1.7 M374.56 460.29v-1.7 M377.19 460.6v-1.7 M379.77 460.9v-1.7 M382.39 461.34v-1.7 M385.51 465.7v-1.7 M388.57 465.78v-1.7 M394.06 466.23v-1.7 M397.03 467.9v-1.7 M400.22 467.9v-1.7 M406.14 472v-1.7 M409.05 472v-1.7 M411.97 474.3v-1.7 M416.78 474.3v-1.7 M419.31 475.39v-1.7 M422.15 480.57v-1.7 M425.48 485.1v-1.7 M428.75 485.1v-1.7 M437.16 488.9v-1.7 M440.49 488.9v-1.7 M443.26 488.9v-1.7 M446.19 488.9v-1.7 M449.11 488.9v-1.7 M452.24 493.9v-1.7 M455.43 493.9v-1.7 M457.98 493.9v-1.7 M472.23 499.6v-1.7 M482.57 499.6v-1.7 M494.6 499.6v-1.7 M334.68 463.42v-1.7 M354.13 474.85v-1.7 M364.87 478.42v-1.7 M373.5 485.6v-1.7 M379.57 489.35v-1.7 M381.97 490.27v-1.7 M385.15 492.94v-1.7 M388.35 495.2v-1.7 M390.77 496.36v-1.7 M393.57 497.71v-1.7 M395.84 498.57v-1.7 M398.46 499.35v-1.7 M401.19 500.17v-1.7 M403.74 500.85v-1.7 M407.03 501.64v-1.7 M409.05 502.47v-1.7 M411.17 503.54v-1.7 M414.36 505.13v-1.7 M420.47 507.89v-1.7 M426.2 510.22v-1.7 M429.52 511.81v-1.7 M432.22 513.16v-1.7 M434.79 513.73v-1.7 M436.81 514.04v-1.7 M440.04 514.55v-1.7 M442.6 515.03v-1.7 M445.9 516.41v-1.7 M451.29 520.91v-1.7 M453.77 522.41v-1.7 M497.63 534.7v-1.7 M499.7 534.7v-1.7 M327.99 475.34v-1.7 M330.34 478.36v-1.7 M355.28 496.03v-1.7 M379.14 511.14v-1.7 M381.64 512.73v-1.7 M384.3 515v-1.7 M387.12 517.82v-1.7 M390.27 518.81v-1.7 M392.73 519.34v-1.7 M395.16 519.87v-1.7 M397.78 520.81v-1.7 M408.98 525.11v-1.7 M414.21 526.89v-1.7 M423.53 530.56v-1.7 M426.04 531.63v-1.7 M431.8 533.1v-1.7 M433.84 533.3v-1.7 M436.73 533.3v-1.7 M454 533.3v-1.7 M456.89 533.3v-1.7 M459.23 533.3v-1.7 M462.09 533.3v-1.7 M476.56 533.3v-1.7 M477.7 533.3v-1.7" stroke="#000" stroke-width="1.05" fill="none"/>
<rect x="0.5" y="0.5" width="519" height="627" fill="none" stroke="#000" stroke-width="1"/>
</svg></body></html>
